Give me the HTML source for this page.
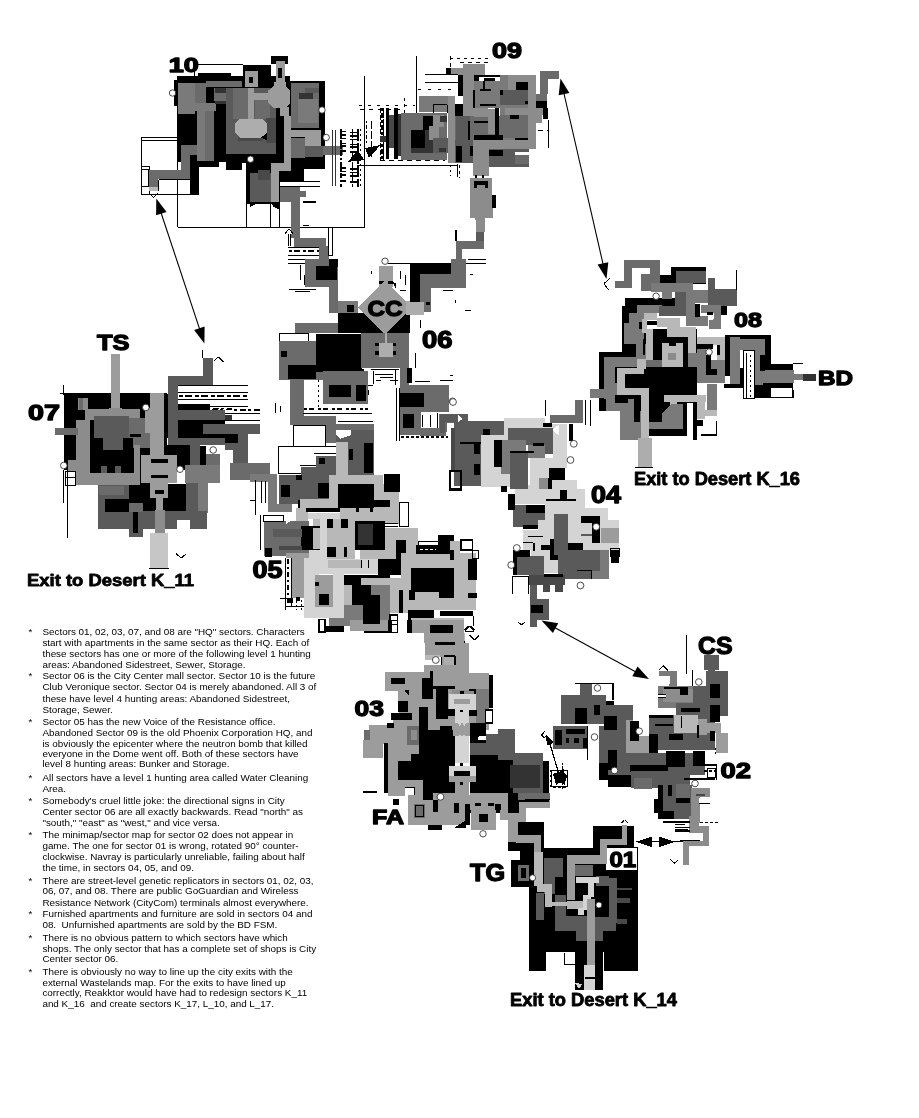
<!DOCTYPE html>
<html><head><meta charset="utf-8"><title>Neocron City Sector Map</title>
<style>
html,body{margin:0;padding:0;background:#fff;}
body{width:919px;height:1118px;position:relative;overflow:hidden;font-family:"Liberation Sans",sans-serif;color:#000;}
svg{position:absolute;left:0;top:0;filter:grayscale(1);}
#notes{filter:grayscale(1);}
.lab{font-family:"Liberation Sans",sans-serif;font-weight:bold;fill:#000;stroke:#000;stroke-width:1.3px;stroke-linejoin:round;}
.ex{font-family:"Liberation Sans",sans-serif;font-weight:bold;fill:#000;stroke:#000;stroke-width:0.8px;stroke-linejoin:round;}
#notes{position:absolute;left:0;top:0;font-size:9.9px;line-height:11px;white-space:nowrap;}
#notes .ln{position:absolute;left:42.4px;height:11px;}
#notes .b{position:absolute;left:-14px;top:0;}
</style></head><body>
<svg width="919" height="1118" viewBox="0 0 919 1118" shape-rendering="crispEdges">
<rect x="141.2" y="137.5" width="36.2" height="57.0" fill="none" stroke="#000" stroke-width="1"/>
<line x1="141.2" y1="140.5" x2="177.5" y2="140.5" stroke="#000" stroke-width="1"/>
<line x1="177.5" y1="160.0" x2="177.5" y2="227.0" stroke="#000" stroke-width="1"/>
<line x1="177.5" y1="227.0" x2="364.2" y2="227.0" stroke="#000" stroke-width="1"/>
<line x1="246.2" y1="200.0" x2="246.2" y2="227.0" stroke="#000" stroke-width="1"/>
<line x1="270.5" y1="200.0" x2="270.5" y2="227.0" stroke="#000" stroke-width="1"/>
<line x1="279.5" y1="200.0" x2="279.5" y2="227.0" stroke="#000" stroke-width="1"/>
<line x1="194.5" y1="64.5" x2="242.5" y2="64.5" stroke="#000" stroke-width="1"/>
<line x1="194.5" y1="64.5" x2="194.5" y2="76.2" stroke="#000" stroke-width="1"/>
<rect x="141.2" y="166.2" width="8.2" height="28.2" fill="none" stroke="#000" stroke-width="1"/>
<rect x="141.2" y="169.5" width="6.8" height="16.8" fill="none" stroke="#000" stroke-width="1"/>
<rect x="177.0" y="76.2" width="113.0" height="86.2" fill="#000"/>
<rect x="173.8" y="80.0" width="3.8" height="25.5" fill="#000"/>
<rect x="197.5" y="72.5" width="33.0" height="3.8" fill="#000"/>
<rect x="242.5" y="64.5" width="28.8" height="18.0" fill="#000"/>
<rect x="271.2" y="56.2" width="16.8" height="7.5" fill="#000"/>
<rect x="290.0" y="81.2" width="34.5" height="87.5" fill="#000"/>
<rect x="226.2" y="162.5" width="16.2" height="7.5" fill="#000"/>
<rect x="246.2" y="162.5" width="33.8" height="41.2" fill="#000"/>
<rect x="190.0" y="155.0" width="8.8" height="39.5" fill="#000"/>
<rect x="280.0" y="167.5" width="23.8" height="13.8" fill="#000"/>
<rect x="198.8" y="160.0" width="20.0" height="7.0" fill="#000"/>
<rect x="177.5" y="82.5" width="17.0" height="31.2" fill="#7a7a7a"/>
<rect x="194.5" y="82.5" width="11.8" height="20.0" fill="#6b6b6b"/>
<rect x="194.5" y="102.5" width="21.8" height="8.8" fill="#7a7a7a"/>
<rect x="206.2" y="81.2" width="36.2" height="6.2" fill="#6b6b6b"/>
<rect x="213.8" y="87.5" width="18.8" height="13.8" fill="#6b6b6b"/>
<rect x="215.0" y="88.0" width="16.2" height="4.5" fill="#333"/>
<rect x="215.0" y="101.2" width="11.2" height="2.8" fill="#333"/>
<rect x="197.0" y="111.2" width="8.0" height="50.0" fill="#7a7a7a"/>
<rect x="205.0" y="111.2" width="8.8" height="50.0" fill="#6b6b6b"/>
<rect x="181.2" y="145.0" width="16.2" height="10.0" fill="#6b6b6b"/>
<rect x="181.2" y="155.0" width="8.8" height="14.5" fill="#6b6b6b"/>
<rect x="148.8" y="169.5" width="41.2" height="9.2" fill="#6b6b6b"/>
<rect x="148.8" y="178.8" width="9.2" height="8.2" fill="#6b6b6b"/>
<rect x="148.8" y="187.0" width="9.2" height="4.2" fill="#b8b8b8"/>
<rect x="226.2" y="87.5" width="50.0" height="66.2" fill="#5a5a5a"/>
<rect x="232.5" y="87.5" width="15.0" height="31.2" fill="#6b6b6b"/>
<rect x="255.0" y="100.0" width="15.0" height="18.8" fill="#6b6b6b"/>
<rect x="266.2" y="117.5" width="10.0" height="25.5" fill="#484848"/>
<rect x="226.2" y="153.8" width="57.5" height="8.8" fill="#000"/>
<rect x="276.2" y="116.2" width="7.5" height="37.5" fill="#000"/>
<rect x="244.5" y="71.2" width="13.0" height="16.2" fill="#9c9c9c"/>
<rect x="248.5" y="77.0" width="4.5" height="5.5" fill="#000"/>
<rect x="248.0" y="87.5" width="6.0" height="31.2" fill="#9c9c9c"/>
<polygon points="240.0,118.8 262.5,118.8 267.0,123.0 267.0,132.5 262.0,137.5 239.5,137.5 235.0,133.0 235.0,123.0" fill="#adadad"/>
<rect x="238.0" y="137.5" width="24.5" height="3.5" fill="#484848"/>
<polygon points="261.2,137.5 267.0,132.5 267.0,140.5" fill="#000"/>
<rect x="275.5" y="61.2" width="9.0" height="21.2" fill="#9c9c9c"/>
<rect x="277.5" y="68.0" width="4.0" height="10.0" fill="#000"/>
<rect x="273.8" y="82.0" width="12.5" height="5.5" fill="#9c9c9c"/>
<polygon points="273.0,86.2 285.5,86.2 290.0,90.8 290.0,103.0 285.5,107.5 273.0,107.5 268.2,103.0 268.2,90.8" fill="#9c9c9c"/>
<rect x="254.0" y="93.0" width="14.8" height="7.0" fill="#9c9c9c"/>
<rect x="279.5" y="107.0" width="9.2" height="9.2" fill="#9c9c9c"/>
<rect x="283.8" y="115.5" width="7.5" height="52.0" fill="#9c9c9c"/>
<rect x="271.2" y="162.5" width="20.0" height="8.0" fill="#9c9c9c"/>
<rect x="271.2" y="170.0" width="8.2" height="31.5" fill="#9c9c9c"/>
<rect x="291.2" y="129.5" width="30.0" height="7.5" fill="#9c9c9c"/>
<rect x="305.0" y="136.5" width="16.2" height="9.8" fill="#9c9c9c"/>
<rect x="291.2" y="82.5" width="27.5" height="45.5" fill="#6b6b6b"/>
<rect x="298.0" y="98.8" width="19.5" height="24.2" fill="#7a7a7a"/>
<rect x="298.8" y="93.0" width="14.2" height="5.8" fill="#333"/>
<rect x="305.0" y="87.5" width="13.8" height="5.5" fill="#5a5a5a"/>
<rect x="291.2" y="137.5" width="13.8" height="20.0" fill="#6b6b6b"/>
<rect x="305.0" y="146.2" width="17.5" height="11.2" fill="#5a5a5a"/>
<rect x="322.5" y="146.2" width="20.0" height="8.8" fill="#6b6b6b"/>
<rect x="250.0" y="172.5" width="21.2" height="29.5" fill="#5a5a5a"/>
<rect x="257.5" y="170.0" width="12.5" height="10.0" fill="#484848"/>
<polygon points="250.0,202.0 260.0,202.0 250.0,207.0" fill="#000"/>
<polygon points="270.0,202.0 279.5,202.0 279.5,210.0 273.8,207.0" fill="#000"/>
<rect x="280.0" y="186.2" width="20.0" height="15.8" fill="#6b6b6b"/>
<rect x="279.5" y="181.2" width="40.5" height="5.0" fill="#fff"/>
<line x1="279.5" y1="181.2" x2="320.0" y2="181.2" stroke="#000" stroke-width="1"/>
<line x1="279.5" y1="186.2" x2="320.0" y2="186.2" stroke="#000" stroke-width="1"/>
<rect x="300.0" y="191.2" width="6.2" height="6.2" fill="#6b6b6b"/>
<line x1="302.5" y1="201.8" x2="315.5" y2="201.8" stroke="#000" stroke-width="2"/>
<line x1="141.2" y1="194.5" x2="194.5" y2="194.5" stroke="#000" stroke-width="1"/>
<line x1="158.5" y1="179.5" x2="189.8" y2="179.5" stroke="#000" stroke-width="1"/>
<line x1="158.5" y1="179.5" x2="158.5" y2="191.2" stroke="#000" stroke-width="1"/>
<line x1="148.8" y1="192.8" x2="153.5" y2="197.5" stroke="#000" stroke-width="1"/>
<line x1="153.5" y1="197.5" x2="158.5" y2="192.8" stroke="#000" stroke-width="1"/>
<circle cx="172.5" cy="93.0" r="3.2" fill="#fff" stroke="#222" stroke-width="0.8" shape-rendering="geometricPrecision"/>
<circle cx="322.0" cy="110.0" r="3.2" fill="#fff" stroke="#222" stroke-width="0.8" shape-rendering="geometricPrecision"/>
<circle cx="326.2" cy="137.5" r="3.2" fill="#fff" stroke="#222" stroke-width="0.8" shape-rendering="geometricPrecision"/>
<circle cx="250.5" cy="159.2" r="3.2" fill="#fff" stroke="#222" stroke-width="0.8" shape-rendering="geometricPrecision"/>
<line x1="364.2" y1="76.2" x2="364.2" y2="227.5" stroke="#000" stroke-width="1"/>
<line x1="416.2" y1="56.2" x2="416.2" y2="112.5" stroke="#000" stroke-width="1"/>
<line x1="358.8" y1="165.0" x2="457.5" y2="165.0" stroke="#000" stroke-width="1"/>
<line x1="457.5" y1="163.8" x2="457.5" y2="177.0" stroke="#000" stroke-width="1"/>
<line x1="371.2" y1="122.5" x2="371.2" y2="160.0" stroke="#000" stroke-width="1" stroke-dasharray="4 6"/>
<line x1="380.0" y1="107.5" x2="380.0" y2="160.0" stroke="#000" stroke-width="1" stroke-dasharray="5 2"/>
<line x1="383.0" y1="107.5" x2="383.0" y2="160.0" stroke="#000" stroke-width="1" stroke-dasharray="8 3"/>
<line x1="404.5" y1="97.5" x2="404.5" y2="112.5" stroke="#000" stroke-width="1" stroke-dasharray="3 3"/>
<line x1="450.0" y1="56.2" x2="450.0" y2="67.5" stroke="#000" stroke-width="1" stroke-dasharray="4 3"/>
<line x1="459.5" y1="165.0" x2="459.5" y2="177.5" stroke="#000" stroke-width="1" stroke-dasharray="3 3"/>
<line x1="450.0" y1="165.0" x2="450.0" y2="176.2" stroke="#000" stroke-width="1" stroke-dasharray="2 3"/>
<line x1="358.8" y1="105.0" x2="415.0" y2="105.0" stroke="#000" stroke-width="1" stroke-dasharray="3 6"/>
<line x1="360.0" y1="109.5" x2="405.0" y2="109.5" stroke="#000" stroke-width="1" stroke-dasharray="4 5"/>
<line x1="380.0" y1="160.5" x2="445.0" y2="160.5" stroke="#000" stroke-width="1" stroke-dasharray="5 4"/>
<line x1="450.0" y1="58.0" x2="490.0" y2="58.0" stroke="#000" stroke-width="1" stroke-dasharray="3 4"/>
<line x1="460.0" y1="62.0" x2="487.5" y2="62.0" stroke="#000" stroke-width="1" stroke-dasharray="4 4"/>
<line x1="417.5" y1="89.0" x2="457.5" y2="89.0" stroke="#000" stroke-width="1" stroke-dasharray="3 7"/>
<line x1="490.0" y1="166.2" x2="527.5" y2="166.2" stroke="#000" stroke-width="1" stroke-dasharray="3 4"/>
<line x1="537.5" y1="130.0" x2="548.8" y2="130.0" stroke="#000" stroke-width="1" stroke-dasharray="5 4"/>
<line x1="547.5" y1="147.5" x2="548.8" y2="147.5" stroke="#000" stroke-width="1" stroke-dasharray="1 1"/>
<line x1="548.0" y1="120.0" x2="548.0" y2="147.5" stroke="#000" stroke-width="1"/>
<line x1="332.5" y1="130.0" x2="332.5" y2="186.0" stroke="#333" stroke-width="1"/>
<line x1="335.5" y1="130.0" x2="335.5" y2="186.0" stroke="#333" stroke-width="1"/>
<line x1="341.0" y1="129" x2="341.0" y2="187" stroke="#000" stroke-width="1.5" stroke-dasharray="5 2 2 2"/>
<line x1="352.5" y1="129" x2="352.5" y2="187" stroke="#000" stroke-width="1.2" stroke-dasharray="9 2"/>
<line x1="357.5" y1="129" x2="357.5" y2="187" stroke="#000" stroke-width="2" stroke-dasharray="12 2 3 1"/>
<line x1="360.8" y1="129" x2="360.8" y2="187" stroke="#000" stroke-width="1" stroke-dasharray="2 3"/>
<line x1="340.0" y1="131.8" x2="346.0" y2="131.8" stroke="#000" stroke-width="1.2"/>
<line x1="350.0" y1="132.8" x2="359.0" y2="132.8" stroke="#000" stroke-width="1.2"/>
<line x1="340.0" y1="135.0" x2="346.0" y2="135.0" stroke="#000" stroke-width="1.2"/>
<line x1="350.0" y1="136.0" x2="359.0" y2="136.0" stroke="#000" stroke-width="1.2"/>
<line x1="340.0" y1="138.3" x2="346.0" y2="138.3" stroke="#000" stroke-width="1.2"/>
<line x1="350.0" y1="139.3" x2="359.0" y2="139.3" stroke="#000" stroke-width="1.2"/>
<line x1="340.0" y1="143.5" x2="346.0" y2="143.5" stroke="#000" stroke-width="1.2"/>
<line x1="350.0" y1="144.5" x2="359.0" y2="144.5" stroke="#000" stroke-width="1.2"/>
<line x1="340.0" y1="146.0" x2="346.0" y2="146.0" stroke="#000" stroke-width="1.2"/>
<line x1="350.0" y1="147.0" x2="359.0" y2="147.0" stroke="#000" stroke-width="1.2"/>
<line x1="340.0" y1="151.0" x2="346.0" y2="151.0" stroke="#000" stroke-width="1.2"/>
<line x1="350.0" y1="152.0" x2="359.0" y2="152.0" stroke="#000" stroke-width="1.2"/>
<line x1="340.0" y1="168.0" x2="346.0" y2="168.0" stroke="#000" stroke-width="1.2"/>
<line x1="350.0" y1="169.0" x2="359.0" y2="169.0" stroke="#000" stroke-width="1.2"/>
<line x1="340.0" y1="171.5" x2="346.0" y2="171.5" stroke="#000" stroke-width="1.2"/>
<line x1="350.0" y1="172.5" x2="359.0" y2="172.5" stroke="#000" stroke-width="1.2"/>
<line x1="340.0" y1="175.0" x2="346.0" y2="175.0" stroke="#000" stroke-width="1.2"/>
<line x1="350.0" y1="176.0" x2="359.0" y2="176.0" stroke="#000" stroke-width="1.2"/>
<line x1="340.0" y1="181.0" x2="346.0" y2="181.0" stroke="#000" stroke-width="1.2"/>
<line x1="350.0" y1="182.0" x2="359.0" y2="182.0" stroke="#000" stroke-width="1.2"/>
<line x1="366.5" y1="121" x2="366.5" y2="143" stroke="#000" stroke-width="1.6" stroke-dasharray="2 2 4 2"/>
<line x1="371.5" y1="121" x2="371.5" y2="143" stroke="#000" stroke-width="1.6" stroke-dasharray="2 2 4 2"/>
<line x1="382" y1="108" x2="382" y2="160" stroke="#000" stroke-width="3" stroke-dasharray="3 2 5 2"/>
<rect x="385.5" y="108.0" width="3.8" height="51.0" fill="#000"/>
<rect x="393.8" y="108.0" width="4.5" height="51.0" fill="#000"/>
<rect x="389.2" y="115.0" width="4.5" height="32.5" fill="#484848"/>
<rect x="398.2" y="113.8" width="4.2" height="42.5" fill="#333"/>
<rect x="380.0" y="136.2" width="5.5" height="6.2" fill="#333"/>
<rect x="401.2" y="112.5" width="46.2" height="47.0" fill="#6b6b6b"/>
<rect x="411.2" y="130.0" width="21.8" height="22.5" fill="#333"/>
<rect x="411.2" y="130.0" width="13.8" height="18.0" fill="#000"/>
<rect x="422.5" y="116.2" width="10.5" height="13.8" fill="#000"/>
<rect x="433.0" y="115.0" width="10.8" height="12.0" fill="#8c8c8c"/>
<rect x="428.8" y="126.2" width="10.5" height="14.2" fill="#8c8c8c"/>
<rect x="433.0" y="137.5" width="14.5" height="15.0" fill="#5a5a5a"/>
<rect x="438.8" y="147.5" width="7.5" height="4.5" fill="#333"/>
<rect x="440.0" y="116.2" width="7.0" height="5.8" fill="#333"/>
<rect x="418.8" y="96.2" width="36.2" height="16.2" fill="#7a7a7a"/>
<line x1="433.0" y1="104.5" x2="447.0" y2="104.5" stroke="#000" stroke-width="1"/>
<line x1="433.0" y1="104.5" x2="433.0" y2="112.5" stroke="#000" stroke-width="1"/>
<line x1="447.0" y1="104.5" x2="447.0" y2="112.5" stroke="#000" stroke-width="1"/>
<rect x="447.5" y="96.2" width="7.5" height="66.8" fill="#8c8c8c"/>
<rect x="451.2" y="67.5" width="33.8" height="9.2" fill="#8c8c8c"/>
<rect x="462.5" y="63.8" width="22.5" height="4.2" fill="#8c8c8c"/>
<rect x="446.2" y="67.5" width="5.0" height="7.0" fill="#000"/>
<rect x="425.0" y="74.5" width="32.5" height="8.0" fill="#fff"/>
<line x1="425.0" y1="74.5" x2="457.5" y2="74.5" stroke="#000" stroke-width="1"/>
<line x1="425.0" y1="82.5" x2="457.5" y2="82.5" stroke="#000" stroke-width="1"/>
<rect x="462.5" y="75.0" width="11.2" height="41.2" fill="#8c8c8c"/>
<rect x="457.5" y="75.0" width="5.0" height="21.2" fill="#000"/>
<rect x="473.8" y="75.0" width="5.0" height="6.5" fill="#000"/>
<rect x="478.8" y="75.0" width="21.2" height="6.5" fill="#fff"/>
<line x1="478.8" y1="75.8" x2="500.0" y2="75.8" stroke="#000" stroke-width="2"/>
<rect x="483.8" y="78.0" width="11.2" height="4.0" fill="#000"/>
<rect x="455.0" y="103.8" width="7.5" height="19.2" fill="#000"/>
<rect x="473.8" y="81.2" width="26.2" height="26.8" fill="#7a7a7a"/>
<line x1="474.2" y1="90.0" x2="474.2" y2="107.5" stroke="#000" stroke-width="2"/>
<line x1="483.8" y1="81.2" x2="483.8" y2="91.2" stroke="#000" stroke-width="2"/>
<line x1="480.0" y1="90.0" x2="491.2" y2="90.0" stroke="#000" stroke-width="2"/>
<line x1="480.0" y1="105.0" x2="496.2" y2="105.0" stroke="#000" stroke-width="2"/>
<rect x="500.0" y="75.0" width="36.2" height="73.0" fill="#7a7a7a"/>
<rect x="507.5" y="75.0" width="28.8" height="15.0" fill="#8c8c8c"/>
<rect x="516.2" y="82.0" width="11.8" height="8.0" fill="#000"/>
<rect x="500.0" y="90.0" width="27.5" height="15.0" fill="#5a5a5a"/>
<rect x="505.0" y="107.5" width="37.5" height="7.5" fill="#8c8c8c"/>
<rect x="527.5" y="90.0" width="8.8" height="58.0" fill="#8c8c8c"/>
<rect x="500.0" y="115.0" width="27.5" height="23.0" fill="#6b6b6b"/>
<rect x="510.0" y="115.0" width="8.8" height="4.0" fill="#000"/>
<rect x="514.5" y="137.5" width="13.0" height="3.2" fill="#000"/>
<rect x="500.0" y="90.0" width="3.0" height="5.0" fill="#000"/>
<rect x="525.0" y="101.2" width="3.0" height="3.2" fill="#000"/>
<rect x="536.2" y="107.5" width="6.2" height="15.5" fill="#8c8c8c"/>
<rect x="539.5" y="71.2" width="19.2" height="7.8" fill="#6b6b6b"/>
<rect x="539.5" y="78.8" width="8.0" height="15.2" fill="#6b6b6b"/>
<rect x="536.2" y="93.8" width="11.2" height="7.8" fill="#6b6b6b"/>
<rect x="536.2" y="101.2" width="11.2" height="6.8" fill="#000"/>
<rect x="542.5" y="107.5" width="5.0" height="11.5" fill="#000"/>
<rect x="455.0" y="116.2" width="45.0" height="24.2" fill="#6b6b6b"/>
<rect x="456.2" y="116.2" width="13.8" height="23.8" fill="#5a5a5a"/>
<rect x="470.0" y="120.0" width="18.0" height="15.0" fill="#6b6b6b"/>
<rect x="473.8" y="135.0" width="29.2" height="5.8" fill="#000"/>
<rect x="495.0" y="107.5" width="4.0" height="27.5" fill="#000"/>
<rect x="487.5" y="108.8" width="7.5" height="25.2" fill="#8c8c8c"/>
<rect x="480.0" y="114.5" width="8.0" height="2.5" fill="#000"/>
<rect x="473.8" y="120.5" width="13.8" height="2.5" fill="#000"/>
<rect x="468.0" y="121.2" width="2.0" height="18.8" fill="#000"/>
<rect x="472.5" y="140.0" width="63.8" height="9.0" fill="#8c8c8c"/>
<rect x="455.0" y="145.0" width="17.5" height="18.0" fill="#5a5a5a"/>
<rect x="456.2" y="145.0" width="5.8" height="17.0" fill="#000"/>
<rect x="469.5" y="145.0" width="3.0" height="10.5" fill="#000"/>
<rect x="472.5" y="148.8" width="16.2" height="26.8" fill="#8c8c8c"/>
<rect x="488.8" y="149.0" width="40.0" height="17.5" fill="#5a5a5a"/>
<rect x="488.8" y="149.5" width="13.8" height="6.0" fill="#000"/>
<rect x="515.0" y="155.0" width="13.8" height="9.0" fill="#6b6b6b"/>
<rect x="515.0" y="152.0" width="13.8" height="3.0" fill="#fff"/>
<rect x="455.0" y="140.0" width="17.8" height="5.5" fill="#5a5a5a"/>
<rect x="473.8" y="107.5" width="14.2" height="9.2" fill="#8c8c8c"/>
<rect x="469.5" y="177.5" width="22.5" height="39.0" fill="#8c8c8c"/>
<rect x="473.8" y="181.2" width="13.8" height="7.0" fill="#000"/>
<rect x="477.0" y="184.5" width="7.5" height="3.8" fill="#8c8c8c"/>
<rect x="475.0" y="216.2" width="10.0" height="3.8" fill="#8c8c8c"/>
<rect x="492.0" y="195.0" width="3.5" height="13.0" fill="#000"/>
<line x1="476.2" y1="175.0" x2="476.2" y2="178.0" stroke="#000" stroke-width="2"/>
<line x1="483.0" y1="175.0" x2="483.0" y2="178.0" stroke="#000" stroke-width="2"/>
<polygon points="358.0,150.5 347.5,161.8 364.5,160.2" fill="#000"/>
<polygon points="365.0,148.0 380.5,145.0 369.0,158.0" fill="#000"/>
<rect x="291.2" y="200.0" width="8.8" height="38.0" fill="#6b6b6b"/>
<rect x="293.8" y="237.5" width="32.5" height="9.0" fill="#6b6b6b"/>
<rect x="318.8" y="246.2" width="10.2" height="12.8" fill="#6b6b6b"/>
<rect x="328.0" y="227.5" width="4.0" height="28.0" fill="none" stroke="#000" stroke-width="1"/>
<line x1="288.0" y1="231.2" x2="288.0" y2="246.2" stroke="#000" stroke-width="1"/>
<line x1="290.5" y1="231.2" x2="290.5" y2="246.2" stroke="#000" stroke-width="1"/>
<polygon points="285.0,233.8 289.0,228.8 293.0,233.8" fill="#fff"/>
<line x1="285.0" y1="233.8" x2="289.0" y2="228.8" stroke="#000" stroke-width="1"/>
<line x1="289.0" y1="228.8" x2="293.0" y2="233.8" stroke="#000" stroke-width="1"/>
<line x1="287.5" y1="247.5" x2="318.8" y2="247.5" stroke="#000" stroke-width="1"/>
<line x1="287.5" y1="255.5" x2="318.8" y2="255.5" stroke="#000" stroke-width="1"/>
<line x1="287.5" y1="259.0" x2="318.8" y2="259.0" stroke="#000" stroke-width="1"/>
<line x1="287.5" y1="263.0" x2="318.8" y2="263.0" stroke="#000" stroke-width="1"/>
<line x1="288.8" y1="251.2" x2="318.8" y2="251.2" stroke="#000" stroke-width="2" stroke-dasharray="3 2 6 3"/>
<rect x="305.0" y="259.0" width="32.5" height="27.5" fill="#6b6b6b"/>
<rect x="316.2" y="266.2" width="21.2" height="14.2" fill="#000"/>
<rect x="328.8" y="259.0" width="8.8" height="7.5" fill="#000"/>
<rect x="328.8" y="286.2" width="8.8" height="26.8" fill="#6b6b6b"/>
<rect x="337.5" y="301.2" width="20.0" height="14.2" fill="#7a7a7a"/>
<rect x="347.0" y="305.0" width="7.0" height="6.5" fill="#000"/>
<rect x="295.0" y="322.5" width="42.5" height="10.5" fill="#6b6b6b"/>
<rect x="337.5" y="312.5" width="72.5" height="20.5" fill="#000"/>
<rect x="378.8" y="266.2" width="13.8" height="20.8" fill="#9c9c9c"/>
<rect x="378.8" y="281.2" width="5.0" height="2.8" fill="#000"/>
<rect x="387.5" y="281.2" width="5.0" height="2.8" fill="#000"/>
<polygon points="385.0,280.5 412.0,307.5 385.0,334.5 358.0,307.5" fill="#9c9c9c"/>
<polygon points="392.5,281.2 396.2,283.8 396.2,290.0" fill="#000"/>
<circle cx="385.0" cy="261.2" r="3.2" fill="#fff" stroke="#222" stroke-width="0.8" shape-rendering="geometricPrecision"/>
<line x1="387.5" y1="263.0" x2="486.2" y2="263.0" stroke="#000" stroke-width="1"/>
<line x1="467.5" y1="259.5" x2="486.2" y2="259.5" stroke="#000" stroke-width="1"/>
<rect x="406.2" y="301.2" width="17.5" height="13.8" fill="#adadad"/>
<rect x="423.8" y="297.5" width="7.5" height="14.0" fill="#6b6b6b"/>
<rect x="426.2" y="300.0" width="3.8" height="5.0" fill="#000"/>
<rect x="410.0" y="263.0" width="41.2" height="11.0" fill="#000"/>
<rect x="410.0" y="273.8" width="10.0" height="27.8" fill="#000"/>
<rect x="420.0" y="273.8" width="46.2" height="14.2" fill="#6b6b6b"/>
<rect x="420.0" y="287.5" width="11.2" height="14.0" fill="#6b6b6b"/>
<rect x="451.2" y="258.8" width="15.0" height="15.2" fill="#6b6b6b"/>
<rect x="456.2" y="241.2" width="27.5" height="7.8" fill="#6b6b6b"/>
<rect x="456.2" y="248.8" width="6.2" height="10.2" fill="#6b6b6b"/>
<rect x="476.2" y="231.2" width="7.8" height="10.2" fill="#5a5a5a"/>
<rect x="470.0" y="200.0" width="22.5" height="17.5" fill="#8c8c8c"/>
<rect x="476.2" y="217.5" width="8.8" height="14.0" fill="#8c8c8c"/>
<line x1="455.5" y1="230.0" x2="455.5" y2="241.2" stroke="#000" stroke-width="2"/>
<rect x="492.0" y="200.0" width="4.2" height="7.5" fill="#000"/>
<rect x="345.0" y="272.5" width="2.0" height="0.8" fill="#000"/>
<rect x="347.5" y="275.0" width="0.8" height="2.5" fill="#000"/>
<rect x="371.2" y="271.2" width="1.0" height="3.0" fill="#000"/>
<rect x="352.5" y="292.5" width="3.0" height="0.8" fill="#000"/>
<rect x="357.5" y="296.2" width="0.8" height="2.5" fill="#000"/>
<rect x="400.0" y="271.2" width="0.8" height="7.5" fill="#000"/>
<rect x="405.0" y="275.0" width="0.8" height="10.0" fill="#000"/>
<rect x="397.5" y="282.5" width="7.5" height="0.8" fill="#000"/>
<rect x="400.0" y="290.0" width="6.2" height="0.8" fill="#000"/>
<rect x="442.5" y="290.0" width="10.0" height="0.8" fill="#000"/>
<rect x="455.0" y="300.0" width="1.2" height="3.0" fill="#000"/>
<rect x="465.0" y="310.0" width="6.2" height="0.8" fill="#000"/>
<rect x="470.0" y="273.8" width="3.0" height="0.8" fill="#000"/>
<rect x="302.5" y="225.0" width="6.2" height="0.8" fill="#000"/>
<rect x="307.5" y="227.0" width="2.5" height="0.8" fill="#000"/>
<rect x="288.8" y="288.8" width="27.5" height="1.0" fill="#000"/>
<rect x="295.0" y="291.2" width="15.0" height="0.8" fill="#000"/>
<rect x="300.0" y="265.0" width="1.0" height="15.0" fill="#000"/>
<rect x="303.8" y="275.0" width="0.8" height="10.0" fill="#000"/>
<rect x="288.8" y="322.5" width="6.2" height="0.8" fill="#000"/>
<rect x="420.0" y="320.0" width="0.8" height="7.5" fill="#000"/>
<rect x="415.0" y="352.5" width="0.8" height="15.0" fill="#000"/>
<rect x="412.5" y="372.5" width="0.8" height="12.5" fill="#000"/>
<rect x="442.5" y="372.5" width="0.8" height="7.5" fill="#000"/>
<rect x="450.0" y="375.0" width="3.0" height="0.8" fill="#000"/>
<rect x="435.0" y="317.5" width="3.0" height="0.8" fill="#000"/>
<rect x="279.5" y="333.8" width="28.5" height="9.2" fill="none" stroke="#000" stroke-width="1"/>
<rect x="278.8" y="341.2" width="43.8" height="38.8" fill="#6b6b6b"/>
<rect x="287.5" y="365.0" width="28.0" height="14.0" fill="#000"/>
<rect x="281.2" y="351.2" width="6.2" height="6.2" fill="#000"/>
<rect x="316.2" y="333.8" width="45.5" height="37.8" fill="#000"/>
<rect x="343.8" y="368.8" width="20.2" height="10.2" fill="#000"/>
<rect x="361.2" y="332.5" width="47.8" height="35.5" fill="#6b6b6b"/>
<rect x="384.5" y="332.5" width="2.8" height="10.5" fill="#adadad"/>
<rect x="378.8" y="342.5" width="14.0" height="14.8" fill="#adadad"/>
<rect x="375.0" y="342.5" width="3.5" height="3.8" fill="#000"/>
<rect x="392.8" y="342.5" width="3.5" height="3.8" fill="#000"/>
<rect x="375.0" y="351.2" width="3.5" height="3.8" fill="#000"/>
<rect x="392.8" y="351.2" width="3.5" height="3.8" fill="#000"/>
<rect x="400.0" y="367.5" width="9.0" height="18.0" fill="#6b6b6b"/>
<rect x="406.5" y="367.5" width="5.0" height="15.0" fill="#000"/>
<rect x="322.5" y="371.2" width="45.0" height="32.8" fill="#6b6b6b"/>
<rect x="328.8" y="385.0" width="21.8" height="11.5" fill="#000"/>
<rect x="356.2" y="385.0" width="10.2" height="15.5" fill="#000"/>
<rect x="290.0" y="380.0" width="14.0" height="38.0" fill="#6b6b6b"/>
<rect x="290.0" y="416.2" width="46.2" height="9.0" fill="#6b6b6b"/>
<rect x="325.0" y="425.0" width="11.2" height="18.0" fill="#6b6b6b"/>
<line x1="302.5" y1="413.2" x2="372.0" y2="413.2" stroke="#000" stroke-width="1"/>
<rect x="293.8" y="425.0" width="31.2" height="21.2" fill="none" stroke="#000" stroke-width="1"/>
<rect x="304.5" y="379.5" width="18.0" height="24.5" fill="#fff"/>
<line x1="318.8" y1="380.0" x2="318.8" y2="410.0" stroke="#000" stroke-width="1" stroke-dasharray="2 3"/>
<line x1="303.8" y1="408.8" x2="367.5" y2="408.8" stroke="#000" stroke-width="2" stroke-dasharray="3 2 5 4"/>
<rect x="371.2" y="368.8" width="27.5" height="1.0" fill="#000"/>
<rect x="372.5" y="371.2" width="1.0" height="12.5" fill="#000"/>
<rect x="375.0" y="373.8" width="17.5" height="1.0" fill="#000"/>
<rect x="380.0" y="377.0" width="12.5" height="0.8" fill="#000"/>
<rect x="395.0" y="370.0" width="1.0" height="15.0" fill="#000"/>
<rect x="390.0" y="380.0" width="7.5" height="1.0" fill="#000"/>
<rect x="376.2" y="380.0" width="5.0" height="1.0" fill="#000"/>
<rect x="367.5" y="385.0" width="5.0" height="0.8" fill="#000"/>
<rect x="367.5" y="390.0" width="1.0" height="5.0" fill="#000"/>
<rect x="337.5" y="421.2" width="35.0" height="0.8" fill="#000"/>
<rect x="275.0" y="402.5" width="1.0" height="10.0" fill="#000"/>
<rect x="280.0" y="406.2" width="0.8" height="6.2" fill="#000"/>
<rect x="412.5" y="360.0" width="0.8" height="20.0" fill="#000"/>
<rect x="415.0" y="381.2" width="15.0" height="0.8" fill="#000"/>
<rect x="440.0" y="380.0" width="12.5" height="0.8" fill="#000"/>
<rect x="442.5" y="370.0" width="0.8" height="7.5" fill="#000"/>
<line x1="396.2" y1="387.5" x2="396.2" y2="441.2" stroke="#000" stroke-width="1"/>
<line x1="399.5" y1="387.5" x2="399.5" y2="441.2" stroke="#000" stroke-width="1"/>
<rect x="400.0" y="385.0" width="49.0" height="26.5" fill="#6b6b6b"/>
<rect x="400.0" y="392.5" width="24.0" height="14.0" fill="#000"/>
<rect x="400.0" y="411.2" width="20.5" height="24.2" fill="#6b6b6b"/>
<rect x="402.5" y="413.8" width="11.5" height="14.2" fill="#000"/>
<rect x="420.0" y="427.5" width="25.5" height="8.0" fill="#6b6b6b"/>
<rect x="438.8" y="413.8" width="19.2" height="9.0" fill="#6b6b6b"/>
<rect x="438.8" y="422.5" width="7.8" height="9.0" fill="#6b6b6b"/>
<rect x="416.2" y="403.8" width="7.8" height="3.2" fill="#000"/>
<line x1="401.2" y1="436.5" x2="447.5" y2="436.5" stroke="#000" stroke-width="2" stroke-dasharray="3 2"/>
<circle cx="452.5" cy="401.2" r="3.2" fill="#fff" stroke="#222" stroke-width="0.8" shape-rendering="geometricPrecision"/>
<polygon points="458.0,414.5 462.0,418.2 458.0,422.0" fill="#fff"/>
<line x1="422.5" y1="415.0" x2="422.5" y2="427.0" stroke="#000" stroke-width="1"/>
<line x1="430.0" y1="415.0" x2="430.0" y2="427.0" stroke="#000" stroke-width="1"/>
<line x1="437.5" y1="413.0" x2="437.5" y2="428.0" stroke="#000" stroke-width="1"/>
<rect x="623.8" y="259.5" width="36.2" height="8.2" fill="#6b6b6b"/>
<rect x="623.8" y="267.5" width="7.8" height="14.0" fill="#6b6b6b"/>
<rect x="615.0" y="280.5" width="16.5" height="7.2" fill="#6b6b6b"/>
<rect x="650.0" y="267.5" width="10.0" height="16.5" fill="#6b6b6b"/>
<rect x="641.2" y="273.8" width="10.2" height="17.0" fill="#6b6b6b"/>
<polygon points="603.8,283.8 610.0,278.0 613.8,281.2 613.8,290.0 608.8,290.0" fill="#fff"/>
<line x1="603.8" y1="283.8" x2="610.0" y2="278.0" stroke="#000" stroke-width="1"/>
<line x1="603.8" y1="283.8" x2="608.8" y2="290.0" stroke="#000" stroke-width="1"/>
<rect x="671.2" y="267.0" width="35.2" height="17.0" fill="#000"/>
<rect x="676.2" y="271.2" width="30.2" height="11.5" fill="#5a5a5a"/>
<rect x="660.0" y="275.0" width="12.5" height="9.0" fill="#000"/>
<rect x="651.2" y="282.5" width="41.5" height="9.0" fill="#7a7a7a"/>
<rect x="707.5" y="277.5" width="7.5" height="12.5" fill="#5a5a5a"/>
<rect x="707.5" y="288.8" width="29.0" height="17.0" fill="#5a5a5a"/>
<line x1="736.2" y1="270.0" x2="736.2" y2="290.0" stroke="#000" stroke-width="1"/>
<rect x="725.0" y="335.0" width="45.5" height="9.0" fill="#000"/>
<rect x="725.0" y="335.0" width="5.2" height="40.5" fill="#000"/>
<rect x="730.0" y="338.8" width="10.2" height="46.8" fill="#7a7a7a"/>
<rect x="740.0" y="338.8" width="25.2" height="11.5" fill="#7a7a7a"/>
<rect x="755.0" y="350.0" width="10.2" height="45.5" fill="#7a7a7a"/>
<rect x="743.0" y="350.8" width="11.0" height="47.2" fill="none" stroke="#000" stroke-width="1"/>
<line x1="746.2" y1="352.5" x2="746.2" y2="397.5" stroke="#000" stroke-width="1"/>
<line x1="750.0" y1="355.0" x2="750.0" y2="397.5" stroke="#000" stroke-width="1" stroke-dasharray="2 3"/>
<rect x="765.0" y="335.0" width="5.5" height="33.0" fill="#000"/>
<rect x="760.0" y="355.0" width="10.5" height="15.5" fill="#000"/>
<rect x="765.0" y="370.0" width="29.0" height="12.8" fill="#7a7a7a"/>
<rect x="770.0" y="363.8" width="23.0" height="6.5" fill="#000"/>
<rect x="762.5" y="382.5" width="30.5" height="5.2" fill="#000"/>
<rect x="755.0" y="385.0" width="15.5" height="13.0" fill="#000"/>
<rect x="770.5" y="387.8" width="22.0" height="9.8" fill="none" stroke="#000" stroke-width="1"/>
<rect x="793.8" y="373.8" width="9.0" height="6.5" fill="#7a7a7a"/>
<rect x="802.5" y="374.0" width="13.0" height="6.5" fill="#333"/>
<rect x="723.8" y="383.8" width="20.2" height="4.0" fill="#000"/>
<rect x="740.0" y="367.5" width="4.0" height="17.5" fill="#000"/>
<line x1="792.5" y1="363.8" x2="802.5" y2="363.8" stroke="#000" stroke-width="1"/>
<line x1="793.8" y1="390.0" x2="793.8" y2="397.5" stroke="#000" stroke-width="1"/>
<rect x="625.1" y="298.2" width="49.8" height="8.5" fill="#000"/>
<rect x="621.8" y="306.3" width="17.1" height="47.7" fill="#000"/>
<rect x="599.0" y="352.0" width="46.8" height="59.1" fill="#000"/>
<rect x="643.9" y="329.2" width="52.6" height="93.4" fill="#000"/>
<rect x="634.1" y="394.5" width="53.9" height="41.8" fill="#000"/>
<rect x="637.3" y="304.7" width="24.8" height="8.5" fill="#7a7a7a"/>
<rect x="629.2" y="312.8" width="15.0" height="10.1" fill="#7a7a7a"/>
<rect x="624.3" y="322.6" width="19.9" height="21.5" fill="#7a7a7a"/>
<rect x="635.7" y="343.9" width="10.1" height="15.0" fill="#7a7a7a"/>
<rect x="639.0" y="321.8" width="2.9" height="7.3" fill="#000"/>
<rect x="642.6" y="339.0" width="2.3" height="16.3" fill="#000"/>
<rect x="603.9" y="356.9" width="35.1" height="10.1" fill="#7a7a7a"/>
<rect x="603.9" y="366.7" width="12.6" height="21.5" fill="#7a7a7a"/>
<rect x="590.0" y="388.7" width="15.0" height="9.3" fill="#7a7a7a"/>
<rect x="603.9" y="387.9" width="12.6" height="10.9" fill="#7a7a7a"/>
<rect x="606.3" y="398.5" width="28.1" height="12.6" fill="#7a7a7a"/>
<rect x="620.2" y="410.8" width="20.7" height="29.2" fill="#7a7a7a"/>
<rect x="614.5" y="395.3" width="13.4" height="7.7" fill="#000"/>
<rect x="634.1" y="395.3" width="5.9" height="26.4" fill="#000"/>
<rect x="614.5" y="366.7" width="2.4" height="16.3" fill="#000"/>
<rect x="643.9" y="312.8" width="13.4" height="6.9" fill="#b8b8b8"/>
<rect x="642.2" y="319.4" width="5.2" height="13.4" fill="#b8b8b8"/>
<rect x="645.5" y="329.2" width="7.5" height="31.3" fill="#b8b8b8"/>
<rect x="637.3" y="358.5" width="9.1" height="10.1" fill="#b8b8b8"/>
<rect x="616.9" y="368.3" width="27.3" height="6.0" fill="#b8b8b8"/>
<rect x="616.9" y="374.1" width="7.7" height="20.7" fill="#b8b8b8"/>
<rect x="616.9" y="387.9" width="32.2" height="6.9" fill="#b8b8b8"/>
<rect x="641.4" y="394.5" width="7.2" height="45.5" fill="#b8b8b8"/>
<rect x="656.9" y="317.7" width="23.2" height="9.3" fill="#b8b8b8"/>
<rect x="666.7" y="326.7" width="29.7" height="10.1" fill="#b8b8b8"/>
<rect x="687.9" y="336.5" width="8.5" height="16.6" fill="#b8b8b8"/>
<rect x="661.8" y="342.2" width="21.5" height="24.8" fill="#b8b8b8"/>
<rect x="668.3" y="352.8" width="7.5" height="7.5" fill="#8c8c8c"/>
<rect x="655.3" y="331.6" width="6.5" height="28.9" fill="#000"/>
<rect x="655.3" y="330.8" width="11.8" height="11.8" fill="#000"/>
<rect x="666.7" y="336.5" width="19.9" height="6.0" fill="#000"/>
<rect x="669.2" y="342.2" width="6.5" height="3.3" fill="#000"/>
<rect x="683.4" y="349.6" width="3.8" height="17.1" fill="#000"/>
<rect x="647.1" y="321.0" width="10.1" height="4.2" fill="#000"/>
<rect x="646.3" y="360.2" width="15.8" height="6.9" fill="#6b6b6b"/>
<rect x="661.8" y="291.6" width="10.1" height="7.7" fill="#7a7a7a"/>
<rect x="674.9" y="291.6" width="11.8" height="23.2" fill="#5a5a5a"/>
<rect x="658.5" y="306.3" width="28.1" height="9.3" fill="#5a5a5a"/>
<rect x="686.3" y="290.0" width="21.5" height="13.4" fill="#7a7a7a"/>
<rect x="686.3" y="303.1" width="8.5" height="23.2" fill="#7a7a7a"/>
<rect x="694.5" y="316.1" width="13.4" height="10.1" fill="#7a7a7a"/>
<rect x="701.0" y="304.7" width="19.9" height="8.5" fill="#7a7a7a"/>
<rect x="714.0" y="312.8" width="6.9" height="15.8" fill="#7a7a7a"/>
<rect x="709.1" y="319.4" width="5.2" height="9.3" fill="#7a7a7a"/>
<rect x="694.5" y="303.9" width="5.9" height="12.6" fill="#000"/>
<rect x="708.3" y="315.3" width="4.2" height="5.1" fill="#fff"/>
<rect x="721.4" y="305.5" width="6.0" height="9.3" fill="#000"/>
<rect x="708.3" y="290.0" width="28.1" height="15.0" fill="#5a5a5a"/>
<rect x="707.2" y="312.0" width="5.5" height="3.3" fill="#000"/>
<rect x="696.9" y="336.5" width="28.1" height="8.5" fill="#b8b8b8"/>
<rect x="717.3" y="344.7" width="7.7" height="15.8" fill="#b8b8b8"/>
<rect x="717.3" y="344.7" width="2.6" height="10.1" fill="#000"/>
<rect x="696.9" y="344.7" width="9.3" height="38.7" fill="#7a7a7a"/>
<rect x="705.9" y="360.2" width="19.1" height="23.2" fill="#7a7a7a"/>
<rect x="705.9" y="355.3" width="5.2" height="19.9" fill="#000"/>
<rect x="710.8" y="369.2" width="6.0" height="6.0" fill="#000"/>
<rect x="724.6" y="336.5" width="6.0" height="38.7" fill="#000"/>
<rect x="730.4" y="336.5" width="9.6" height="46.8" fill="#7a7a7a"/>
<rect x="687.9" y="352.8" width="9.3" height="14.2" fill="#7a7a7a"/>
<rect x="696.1" y="343.9" width="16.6" height="5.2" fill="#000"/>
<rect x="723.8" y="383.8" width="16.2" height="4.4" fill="#000"/>
<rect x="664.3" y="395.3" width="41.9" height="6.9" fill="#b8b8b8"/>
<rect x="670.0" y="401.8" width="6.9" height="6.0" fill="#b8b8b8"/>
<rect x="696.9" y="401.8" width="7.7" height="17.5" fill="#b8b8b8"/>
<rect x="704.2" y="410.0" width="12.6" height="6.0" fill="#b8b8b8"/>
<rect x="706.7" y="383.8" width="10.1" height="26.4" fill="#7a7a7a"/>
<polygon points="661.8,428.7 661.8,414.0 671.6,404.2 683.4,404.2 683.4,428.7" fill="#7a7a7a"/>
<rect x="648.8" y="422.2" width="34.6" height="6.9" fill="#7a7a7a"/>
<rect x="683.0" y="402.6" width="4.2" height="33.0" fill="#000"/>
<rect x="687.1" y="402.6" width="6.0" height="37.4" fill="#fff"/>
<rect x="692.8" y="402.6" width="4.2" height="37.4" fill="#000"/>
<rect x="656.1" y="428.7" width="27.3" height="6.9" fill="#000"/>
<rect x="696.9" y="419.8" width="5.7" height="5.7" fill="#000"/>
<line x1="701.0" y1="435.3" x2="716.5" y2="435.3" stroke="#000" stroke-width="2"/>
<line x1="716.5" y1="420.6" x2="716.5" y2="435.3" stroke="#000" stroke-width="1"/>
<circle cx="656.1" cy="296.2" r="3.2" fill="#fff" stroke="#222" stroke-width="0.8" shape-rendering="geometricPrecision"/>
<circle cx="709.1" cy="352.0" r="3.2" fill="#fff" stroke="#222" stroke-width="0.8" shape-rendering="geometricPrecision"/>
<line x1="545.0" y1="400.0" x2="545.0" y2="416.2" stroke="#000" stroke-width="1"/>
<line x1="585.0" y1="400.0" x2="585.0" y2="425.0" stroke="#000" stroke-width="1"/>
<line x1="590.0" y1="400.0" x2="590.0" y2="426.2" stroke="#000" stroke-width="1"/>
<rect x="550.0" y="415.0" width="32.8" height="7.8" fill="#6b6b6b"/>
<rect x="575.0" y="400.0" width="7.8" height="15.2" fill="#6b6b6b"/>
<rect x="453.8" y="421.2" width="27.8" height="65.2" fill="#5a5a5a"/>
<rect x="440.0" y="413.8" width="27.8" height="7.8" fill="#5a5a5a"/>
<rect x="440.0" y="421.2" width="5.2" height="11.5" fill="#5a5a5a"/>
<rect x="460.0" y="415.0" width="7.8" height="17.8" fill="#5a5a5a"/>
<rect x="475.0" y="421.2" width="29.0" height="14.0" fill="#5a5a5a"/>
<rect x="482.5" y="428.8" width="7.8" height="14.0" fill="#000"/>
<rect x="473.8" y="443.8" width="6.2" height="10.0" fill="#000"/>
<rect x="473.8" y="463.8" width="6.2" height="11.2" fill="#000"/>
<rect x="451.2" y="427.5" width="3.8" height="42.5" fill="#484848"/>
<line x1="460.0" y1="443.0" x2="481.2" y2="443.0" stroke="#000" stroke-width="2"/>
<rect x="450.0" y="471.2" width="11.5" height="17.8" fill="none" stroke="#000" stroke-width="1.5"/>
<polygon points="458.0,415.0 462.5,418.8 458.0,422.5" fill="#fff"/>
<rect x="481.2" y="435.0" width="22.8" height="50.2" fill="#d4d4d4"/>
<rect x="503.8" y="417.5" width="41.5" height="10.2" fill="#d4d4d4"/>
<rect x="503.8" y="423.8" width="62.8" height="11.5" fill="#d4d4d4"/>
<rect x="552.5" y="423.8" width="14.0" height="44.0" fill="#d4d4d4"/>
<rect x="530.0" y="457.5" width="22.8" height="27.8" fill="#d4d4d4"/>
<rect x="481.2" y="472.5" width="34.0" height="14.0" fill="#d4d4d4"/>
<rect x="515.0" y="485.0" width="61.5" height="19.0" fill="#d4d4d4"/>
<rect x="550.0" y="480.0" width="26.5" height="6.5" fill="#d4d4d4"/>
<rect x="503.8" y="435.0" width="6.2" height="40.0" fill="#d4d4d4"/>
<rect x="507.5" y="427.5" width="45.2" height="17.8" fill="#5a5a5a"/>
<rect x="540.0" y="445.0" width="12.8" height="9.0" fill="#5a5a5a"/>
<rect x="501.2" y="440.0" width="25.2" height="34.0" fill="#7a7a7a"/>
<rect x="510.0" y="452.5" width="17.8" height="36.5" fill="#5a5a5a"/>
<rect x="527.5" y="445.0" width="17.8" height="12.8" fill="#7a7a7a"/>
<rect x="493.8" y="440.0" width="7.8" height="26.5" fill="#000"/>
<rect x="548.8" y="467.5" width="16.5" height="12.8" fill="#000"/>
<rect x="538.8" y="477.5" width="9.0" height="11.5" fill="#8c8c8c"/>
<rect x="547.5" y="477.5" width="4.0" height="11.5" fill="#000"/>
<rect x="543.0" y="423.0" width="9.0" height="3.5" fill="#000"/>
<rect x="532.5" y="442.5" width="11.2" height="3.0" fill="#000"/>
<rect x="510.0" y="451.2" width="23.8" height="2.0" fill="#000"/>
<rect x="501.2" y="486.2" width="6.2" height="6.2" fill="#000"/>
<rect x="568.8" y="423.8" width="3.8" height="17.5" fill="#000"/>
<polygon points="552.5,430.0 558.8,424.5 558.8,435.5" fill="#fff"/>
<rect x="512.5" y="505.0" width="32.8" height="21.5" fill="#5a5a5a"/>
<rect x="526.2" y="505.0" width="19.0" height="7.8" fill="#000"/>
<rect x="560.0" y="490.0" width="6.5" height="10.2" fill="#000"/>
<rect x="546.2" y="498.8" width="30.2" height="2.8" fill="#000"/>
<rect x="507.5" y="493.8" width="7.5" height="16.2" fill="#000"/>
<rect x="522.5" y="525.0" width="15.0" height="4.0" fill="#000"/>
<rect x="545.0" y="501.2" width="40.2" height="49.0" fill="#d4d4d4"/>
<rect x="576.2" y="488.8" width="9.0" height="19.0" fill="#d4d4d4"/>
<rect x="585.0" y="507.5" width="22.8" height="42.8" fill="#d4d4d4"/>
<rect x="607.5" y="520.0" width="11.5" height="30.2" fill="#d4d4d4"/>
<rect x="522.5" y="530.0" width="22.8" height="20.2" fill="#d4d4d4"/>
<rect x="537.5" y="520.0" width="9.0" height="11.5" fill="#d4d4d4"/>
<rect x="531.2" y="550.0" width="26.5" height="7.8" fill="#d4d4d4"/>
<rect x="543.8" y="557.5" width="14.0" height="15.2" fill="#d4d4d4"/>
<rect x="553.8" y="513.8" width="14.0" height="46.5" fill="#5a5a5a"/>
<rect x="567.5" y="542.5" width="15.2" height="12.8" fill="#000"/>
<rect x="541.2" y="545.0" width="12.8" height="5.2" fill="#000"/>
<rect x="550.0" y="538.8" width="4.0" height="21.5" fill="#000"/>
<rect x="553.8" y="555.0" width="8.8" height="5.0" fill="#000"/>
<rect x="581.2" y="516.2" width="19.0" height="6.5" fill="#000"/>
<rect x="592.0" y="522.5" width="8.2" height="20.2" fill="#000"/>
<rect x="601.2" y="527.5" width="17.8" height="15.2" fill="#9c9c9c"/>
<rect x="581.2" y="533.8" width="11.2" height="1.8" fill="#5a5a5a"/>
<line x1="527.5" y1="536.2" x2="542.5" y2="536.2" stroke="#000" stroke-width="1"/>
<line x1="522.5" y1="542.5" x2="533.0" y2="542.5" stroke="#000" stroke-width="1"/>
<rect x="533.0" y="542.5" width="2.0" height="8.8" fill="#000"/>
<rect x="515.0" y="556.2" width="29.0" height="19.0" fill="#5a5a5a"/>
<rect x="557.5" y="550.0" width="42.8" height="29.0" fill="#5a5a5a"/>
<rect x="600.0" y="550.0" width="9.0" height="29.0" fill="#7a7a7a"/>
<rect x="591.2" y="571.2" width="17.8" height="7.8" fill="#7a7a7a"/>
<rect x="512.5" y="550.0" width="4.0" height="25.2" fill="#000"/>
<rect x="512.5" y="550.0" width="17.8" height="6.5" fill="#000"/>
<rect x="528.8" y="575.0" width="36.5" height="10.2" fill="#484848"/>
<rect x="542.5" y="583.8" width="7.8" height="7.8" fill="#484848"/>
<rect x="555.0" y="583.8" width="7.8" height="7.8" fill="#484848"/>
<rect x="543.8" y="573.8" width="18.8" height="2.8" fill="#000"/>
<line x1="577.0" y1="570.0" x2="591.2" y2="570.0" stroke="#000" stroke-width="1"/>
<line x1="591.2" y1="570.0" x2="591.2" y2="579.0" stroke="#000" stroke-width="1"/>
<rect x="530.0" y="585.0" width="6.5" height="40.2" fill="#5a5a5a"/>
<rect x="530.0" y="598.8" width="19.0" height="14.0" fill="#5a5a5a"/>
<rect x="531.2" y="605.0" width="11.5" height="7.8" fill="#000"/>
<rect x="536.2" y="612.5" width="12.8" height="7.8" fill="#5a5a5a"/>
<rect x="611.2" y="550.0" width="7.8" height="12.8" fill="#000"/>
<rect x="610.5" y="548.8" width="8.5" height="7.5" fill="none" stroke="#000" stroke-width="1"/>
<line x1="512.5" y1="576.2" x2="512.5" y2="593.8" stroke="#000" stroke-width="1"/>
<line x1="512.5" y1="576.2" x2="528.8" y2="576.2" stroke="#000" stroke-width="1"/>
<line x1="528.8" y1="576.2" x2="528.8" y2="593.8" stroke="#000" stroke-width="1"/>
<circle cx="573.8" cy="443.8" r="3.4" fill="#fff" stroke="#222" stroke-width="0.8" shape-rendering="geometricPrecision"/>
<circle cx="570.5" cy="460.0" r="3.4" fill="#fff" stroke="#222" stroke-width="0.8" shape-rendering="geometricPrecision"/>
<circle cx="596.2" cy="526.8" r="3.4" fill="#fff" stroke="#222" stroke-width="0.8" shape-rendering="geometricPrecision"/>
<circle cx="516.8" cy="548.0" r="3.4" fill="#fff" stroke="#222" stroke-width="0.8" shape-rendering="geometricPrecision"/>
<circle cx="511.2" cy="565.0" r="3.4" fill="#fff" stroke="#222" stroke-width="0.8" shape-rendering="geometricPrecision"/>
<circle cx="580.5" cy="585.5" r="3.4" fill="#fff" stroke="#222" stroke-width="0.8" shape-rendering="geometricPrecision"/>
<circle cx="453.0" cy="402.0" r="3.4" fill="#fff" stroke="#222" stroke-width="0.8" shape-rendering="geometricPrecision"/>
<rect x="637.5" y="437.5" width="14.0" height="29.0" fill="#adadad"/>
<line x1="635.0" y1="467.0" x2="652.5" y2="467.0" stroke="#000" stroke-width="1"/>
<line x1="63.8" y1="385.0" x2="63.8" y2="395.0" stroke="#000" stroke-width="1"/>
<line x1="59.5" y1="393.8" x2="80.0" y2="393.8" stroke="#000" stroke-width="1"/>
<line x1="67.5" y1="470.0" x2="67.5" y2="537.5" stroke="#000" stroke-width="1"/>
<line x1="63.8" y1="470.0" x2="63.8" y2="502.5" stroke="#000" stroke-width="1"/>
<line x1="177.5" y1="385.5" x2="247.5" y2="385.5" stroke="#000" stroke-width="1"/>
<line x1="177.5" y1="392.5" x2="247.5" y2="392.5" stroke="#000" stroke-width="1"/>
<line x1="177.5" y1="399.5" x2="247.5" y2="399.5" stroke="#000" stroke-width="1"/>
<line x1="177.5" y1="406.2" x2="247.5" y2="406.2" stroke="#000" stroke-width="1"/>
<line x1="225.0" y1="413.8" x2="260.0" y2="413.8" stroke="#000" stroke-width="1"/>
<line x1="225.0" y1="420.0" x2="260.0" y2="420.0" stroke="#000" stroke-width="1"/>
<line x1="202.5" y1="350.0" x2="202.5" y2="357.5" stroke="#000" stroke-width="1"/>
<line x1="178.8" y1="396.2" x2="247.5" y2="396.2" stroke="#000" stroke-width="2" stroke-dasharray="4 2 7 3"/>
<line x1="212.5" y1="408.8" x2="260.0" y2="410.5" stroke="#000" stroke-width="2" stroke-dasharray="6 2 3 3"/>
<rect x="63.8" y="392.5" width="102.8" height="77.5" fill="#000"/>
<rect x="76.2" y="470.0" width="90.2" height="15.2" fill="#000"/>
<rect x="177.5" y="437.5" width="7.8" height="7.8" fill="#5a5a5a"/>
<rect x="128.8" y="483.8" width="59.0" height="29.0" fill="#000"/>
<rect x="166.2" y="445.0" width="24.0" height="25.2" fill="#000"/>
<rect x="167.5" y="376.2" width="45.2" height="9.0" fill="#5a5a5a"/>
<rect x="202.5" y="357.5" width="10.2" height="19.0" fill="#5a5a5a"/>
<rect x="167.5" y="385.0" width="10.2" height="60.2" fill="#5a5a5a"/>
<rect x="177.5" y="410.0" width="47.8" height="10.2" fill="#5a5a5a"/>
<rect x="177.5" y="420.0" width="47.8" height="17.8" fill="#000"/>
<rect x="202.5" y="423.8" width="22.8" height="10.2" fill="#5a5a5a"/>
<rect x="185.0" y="437.5" width="40.2" height="7.8" fill="#5a5a5a"/>
<rect x="190.0" y="445.0" width="10.2" height="20.2" fill="#5a5a5a"/>
<rect x="177.5" y="403.8" width="32.8" height="6.5" fill="#000"/>
<rect x="163.8" y="393.8" width="4.2" height="43.8" fill="#000"/>
<rect x="225.0" y="423.8" width="35.2" height="10.2" fill="#5a5a5a"/>
<rect x="225.0" y="433.8" width="22.8" height="16.5" fill="#5a5a5a"/>
<rect x="225.0" y="433.8" width="12.8" height="9.0" fill="#000"/>
<rect x="232.5" y="450.0" width="15.2" height="12.8" fill="#5a5a5a"/>
<rect x="230.0" y="462.5" width="39.8" height="17.8" fill="#6b6b6b"/>
<rect x="225.0" y="414.5" width="7.0" height="5.5" fill="#333"/>
<rect x="200.0" y="446.2" width="6.2" height="26.2" fill="#000"/>
<rect x="206.2" y="453.8" width="14.0" height="19.0" fill="#6b6b6b"/>
<rect x="185.0" y="465.0" width="35.2" height="17.8" fill="#7a7a7a"/>
<rect x="197.5" y="482.5" width="10.2" height="30.2" fill="#7a7a7a"/>
<rect x="186.2" y="482.5" width="11.5" height="30.2" fill="#5a5a5a"/>
<rect x="97.5" y="485.0" width="31.5" height="44.0" fill="#5a5a5a"/>
<rect x="97.5" y="511.2" width="109.0" height="17.8" fill="#5a5a5a"/>
<rect x="128.8" y="528.8" width="14.0" height="8.5" fill="#5a5a5a"/>
<rect x="165.0" y="512.5" width="41.5" height="10.2" fill="#5a5a5a"/>
<rect x="98.8" y="486.2" width="25.2" height="9.0" fill="#6b6b6b"/>
<rect x="105.0" y="498.8" width="24.0" height="12.8" fill="#000"/>
<rect x="132.5" y="506.2" width="5.2" height="26.5" fill="#000"/>
<rect x="128.8" y="502.5" width="14.0" height="9.0" fill="#6b6b6b"/>
<rect x="177.0" y="520.0" width="13.0" height="9.0" fill="#fff"/>
<rect x="111.2" y="353.8" width="8.5" height="54.0" fill="#9c9c9c"/>
<rect x="85.0" y="408.8" width="55.2" height="11.5" fill="#8c8c8c"/>
<rect x="77.5" y="397.5" width="10.2" height="12.8" fill="#8c8c8c"/>
<rect x="78.8" y="398.0" width="4.2" height="12.0" fill="#6b6b6b"/>
<rect x="76.2" y="420.0" width="14.0" height="60.2" fill="#8c8c8c"/>
<rect x="76.2" y="470.0" width="64.0" height="15.2" fill="#8c8c8c"/>
<rect x="67.5" y="460.0" width="10.0" height="11.2" fill="#8c8c8c"/>
<polygon points="102.5,412.5 111.2,407.5 120.0,407.5 128.8,412.5 128.8,420.0 102.5,420.0" fill="#8c8c8c"/>
<rect x="55.0" y="427.5" width="22.8" height="7.8" fill="#6b6b6b"/>
<rect x="93.8" y="416.2" width="35.2" height="21.5" fill="#5a5a5a"/>
<rect x="102.5" y="437.5" width="20.2" height="12.8" fill="#5a5a5a"/>
<rect x="90.0" y="437.5" width="12.5" height="35.0" fill="#000"/>
<rect x="122.5" y="437.5" width="11.5" height="35.2" fill="#000"/>
<rect x="102.5" y="450.0" width="20.2" height="22.8" fill="#000"/>
<rect x="128.8" y="417.5" width="21.5" height="20.2" fill="#6b6b6b"/>
<rect x="132.5" y="437.5" width="19.0" height="10.2" fill="#6b6b6b"/>
<rect x="133.8" y="445.0" width="6.5" height="25.2" fill="#8c8c8c"/>
<rect x="130.0" y="433.8" width="11.2" height="3.2" fill="#000"/>
<rect x="101.2" y="466.2" width="6.2" height="6.8" fill="#5a5a5a"/>
<rect x="114.5" y="466.2" width="6.0" height="6.8" fill="#5a5a5a"/>
<rect x="150.0" y="392.5" width="14.0" height="62.8" fill="#9c9c9c"/>
<rect x="145.0" y="407.5" width="6.5" height="25.2" fill="#9c9c9c"/>
<rect x="141.2" y="455.0" width="36.0" height="27.8" fill="#9c9c9c"/>
<rect x="151.2" y="459.2" width="16.5" height="3.5" fill="#000"/>
<rect x="151.2" y="474.5" width="16.5" height="3.2" fill="#000"/>
<rect x="150.0" y="482.5" width="18.2" height="15.2" fill="#9c9c9c"/>
<rect x="155.0" y="490.0" width="9.0" height="4.0" fill="#000"/>
<rect x="156.2" y="497.5" width="6.5" height="12.8" fill="#9c9c9c"/>
<rect x="154.5" y="510.0" width="10.2" height="22.8" fill="#8c8c8c"/>
<rect x="150.0" y="532.5" width="17.8" height="35.5" fill="#c6c6c6"/>
<line x1="149.0" y1="568.0" x2="168.8" y2="568.0" stroke="#000" stroke-width="1"/>
<circle cx="145.8" cy="407.5" r="3.3" fill="#fff" stroke="#222" stroke-width="0.8" shape-rendering="geometricPrecision"/>
<circle cx="180.0" cy="469.2" r="3.3" fill="#fff" stroke="#222" stroke-width="0.8" shape-rendering="geometricPrecision"/>
<circle cx="213.2" cy="450.0" r="3.3" fill="#fff" stroke="#222" stroke-width="0.8" shape-rendering="geometricPrecision"/>
<circle cx="63.8" cy="465.5" r="3.3" fill="#fff" stroke="#222" stroke-width="0.8" shape-rendering="geometricPrecision"/>
<line x1="213.8" y1="361.2" x2="218.0" y2="356.8" stroke="#000" stroke-width="1"/>
<line x1="218.0" y1="356.8" x2="223.8" y2="362.0" stroke="#000" stroke-width="1"/>
<line x1="176.2" y1="553.8" x2="181.2" y2="558.0" stroke="#000" stroke-width="1"/>
<line x1="181.2" y1="558.0" x2="186.2" y2="553.8" stroke="#000" stroke-width="1"/>
<rect x="65.0" y="471.2" width="10.0" height="13.8" fill="none" stroke="#000" stroke-width="1"/>
<line x1="65.0" y1="477.0" x2="75.0" y2="477.0" stroke="#000" stroke-width="1"/>
<rect x="278.8" y="446.2" width="57.5" height="27.5" fill="none" stroke="#000" stroke-width="1"/>
<line x1="300.0" y1="465.0" x2="336.2" y2="465.0" stroke="#000" stroke-width="1"/>
<line x1="313.8" y1="453.8" x2="336.2" y2="453.8" stroke="#000" stroke-width="1"/>
<rect x="315.8" y="456.0" width="24.8" height="19.8" fill="#5a5a5a"/>
<rect x="301.2" y="466.5" width="14.5" height="9.2" fill="#5a5a5a"/>
<rect x="318.8" y="457.5" width="6.2" height="6.2" fill="#000"/>
<rect x="278.8" y="475.0" width="50.2" height="29.0" fill="#5a5a5a"/>
<rect x="302.5" y="470.0" width="36.5" height="20.2" fill="#5a5a5a"/>
<rect x="250.0" y="473.8" width="26.5" height="7.8" fill="#7a7a7a"/>
<rect x="267.5" y="481.2" width="9.0" height="30.2" fill="#7a7a7a"/>
<rect x="267.5" y="503.8" width="24.0" height="7.8" fill="#7a7a7a"/>
<rect x="281.2" y="485.0" width="9.0" height="11.5" fill="#000"/>
<rect x="317.5" y="482.5" width="11.5" height="15.2" fill="#000"/>
<rect x="296.2" y="474.5" width="6.2" height="5.5" fill="#000"/>
<rect x="297.5" y="500.0" width="3.0" height="17.5" fill="#000"/>
<rect x="336.2" y="423.8" width="38.2" height="51.2" fill="#5a5a5a"/>
<rect x="363.8" y="442.5" width="9.0" height="30.5" fill="#000"/>
<rect x="348.8" y="448.8" width="3.8" height="11.2" fill="#000"/>
<rect x="336.2" y="423.8" width="38.2" height="6.2" fill="#6b6b6b"/>
<rect x="336.2" y="442.0" width="11.5" height="33.5" fill="#b8b8b8"/>
<rect x="343.0" y="470.0" width="4.0" height="5.5" fill="#b8b8b8"/>
<polygon points="336.2,430.0 351.2,430.0 351.2,435.0 340.0,438.8 336.2,435.0" fill="#fff"/>
<rect x="328.8" y="475.0" width="54.0" height="9.0" fill="#b8b8b8"/>
<rect x="328.8" y="483.8" width="9.0" height="24.0" fill="#b8b8b8"/>
<rect x="373.8" y="483.8" width="25.2" height="24.0" fill="#b8b8b8"/>
<rect x="337.5" y="483.8" width="36.5" height="24.0" fill="#000"/>
<rect x="373.8" y="500.0" width="16.5" height="6.5" fill="#000"/>
<rect x="383.8" y="473.8" width="16.0" height="17.8" fill="#000"/>
<rect x="300.0" y="498.8" width="37.8" height="9.0" fill="#b8b8b8"/>
<rect x="296.2" y="507.5" width="11.5" height="16.5" fill="#b8b8b8"/>
<rect x="306.2" y="507.5" width="49.0" height="4.0" fill="#000"/>
<rect x="340.0" y="507.5" width="59.0" height="16.5" fill="#b8b8b8"/>
<rect x="356.2" y="507.5" width="3.0" height="4.5" fill="#000"/>
<rect x="369.5" y="507.5" width="3.0" height="4.5" fill="#000"/>
<rect x="263.8" y="521.2" width="45.2" height="35.2" fill="#6b6b6b"/>
<rect x="301.2" y="526.2" width="11.5" height="24.0" fill="#000"/>
<rect x="265.0" y="547.5" width="6.5" height="9.0" fill="#000"/>
<rect x="272.5" y="528.8" width="29.0" height="7.8" fill="#5a5a5a"/>
<rect x="278.8" y="546.2" width="22.8" height="4.0" fill="#484848"/>
<polygon points="285.5,515.0 291.5,520.0 285.5,525.0" fill="#fff"/>
<rect x="312.5" y="518.8" width="7.8" height="31.5" fill="#b8b8b8"/>
<rect x="326.2" y="518.8" width="29.0" height="40.2" fill="#b8b8b8"/>
<rect x="355.0" y="521.2" width="30.2" height="29.0" fill="#000"/>
<rect x="357.5" y="523.8" width="15.0" height="21.2" fill="#333"/>
<rect x="360.0" y="550.0" width="25.2" height="9.0" fill="#b8b8b8"/>
<rect x="326.2" y="558.8" width="42.8" height="9.0" fill="#b8b8b8"/>
<rect x="326.2" y="518.8" width="7.0" height="9.0" fill="#000"/>
<rect x="340.5" y="518.8" width="7.8" height="9.0" fill="#000"/>
<rect x="326.2" y="547.0" width="9.8" height="9.5" fill="#000"/>
<rect x="343.8" y="547.0" width="3.5" height="9.5" fill="#000"/>
<rect x="308.8" y="526.2" width="11.8" height="1.8" fill="#000"/>
<rect x="310.0" y="548.8" width="10.5" height="1.8" fill="#000"/>
<rect x="385.0" y="527.5" width="32.8" height="31.5" fill="#b8b8b8"/>
<rect x="396.2" y="540.0" width="10.2" height="25.2" fill="#000"/>
<rect x="377.5" y="558.8" width="24.0" height="16.5" fill="#000"/>
<rect x="307.5" y="512.5" width="32.8" height="6.5" fill="#d4d4d4"/>
<rect x="320.0" y="518.8" width="6.5" height="36.5" fill="#d4d4d4"/>
<rect x="308.8" y="550.0" width="17.8" height="17.8" fill="#d4d4d4"/>
<rect x="301.2" y="557.5" width="19.0" height="16.5" fill="#d4d4d4"/>
<rect x="320.0" y="558.8" width="57.8" height="15.2" fill="#d4d4d4"/>
<rect x="303.8" y="573.8" width="15.2" height="44.0" fill="#d4d4d4"/>
<rect x="303.8" y="605.0" width="40.2" height="12.8" fill="#d4d4d4"/>
<rect x="332.5" y="573.8" width="11.5" height="44.0" fill="#d4d4d4"/>
<rect x="327.5" y="559.5" width="33.8" height="8.0" fill="#b8b8b8"/>
<line x1="361.2" y1="559.5" x2="361.2" y2="567.5" stroke="#000" stroke-width="1"/>
<line x1="368.8" y1="559.5" x2="368.8" y2="567.5" stroke="#000" stroke-width="1"/>
<rect x="286.2" y="552.5" width="22.8" height="5.2" fill="#9c9c9c"/>
<rect x="291.2" y="557.5" width="12.8" height="40.2" fill="#9c9c9c"/>
<rect x="315.0" y="575.0" width="17.8" height="31.5" fill="#9c9c9c"/>
<rect x="318.8" y="594.2" width="10.2" height="11.0" fill="#000"/>
<rect x="315.0" y="582.0" width="4.0" height="3.8" fill="#000"/>
<rect x="287.5" y="597.5" width="5.0" height="5.0" fill="#000"/>
<rect x="296.2" y="597.0" width="3.8" height="4.2" fill="#000"/>
<rect x="401.2" y="552.5" width="75.2" height="57.8" fill="#b8b8b8"/>
<rect x="411.2" y="567.5" width="42.8" height="24.0" fill="#000"/>
<rect x="438.8" y="591.2" width="15.2" height="6.5" fill="#000"/>
<rect x="416.2" y="545.0" width="34.0" height="9.0" fill="#000"/>
<rect x="437.5" y="535.0" width="16.5" height="11.5" fill="#000"/>
<rect x="450.0" y="541.2" width="10.2" height="19.0" fill="#b8b8b8"/>
<rect x="467.5" y="558.8" width="9.0" height="21.5" fill="#000"/>
<rect x="467.5" y="592.5" width="9.0" height="5.2" fill="#000"/>
<rect x="450.0" y="550.0" width="3.8" height="10.0" fill="#000"/>
<rect x="408.8" y="590.0" width="6.2" height="10.0" fill="#000"/>
<line x1="418.0" y1="541.2" x2="437.5" y2="541.2" stroke="#000" stroke-width="1"/>
<line x1="418.0" y1="541.2" x2="418.0" y2="545.0" stroke="#000" stroke-width="1"/>
<line x1="420.0" y1="549.5" x2="436.2" y2="549.5" stroke="#fff" stroke-width="1.5" stroke-dasharray="3 2"/>
<rect x="343.8" y="575.0" width="46.5" height="55.2" fill="#000"/>
<rect x="361.2" y="577.5" width="46.5" height="7.8" fill="#b8b8b8"/>
<rect x="390.0" y="585.0" width="17.8" height="27.8" fill="#b8b8b8"/>
<rect x="371.2" y="585.0" width="18.5" height="10.2" fill="#7a7a7a"/>
<rect x="380.0" y="595.0" width="9.8" height="35.2" fill="#7a7a7a"/>
<rect x="355.0" y="622.5" width="34.8" height="7.8" fill="#7a7a7a"/>
<rect x="343.8" y="585.0" width="7.8" height="20.2" fill="#b8b8b8"/>
<rect x="343.8" y="605.0" width="19.0" height="17.8" fill="#7a7a7a"/>
<rect x="328.8" y="617.5" width="26.5" height="11.5" fill="#7a7a7a"/>
<rect x="398.8" y="590.0" width="4.0" height="22.8" fill="#000"/>
<rect x="325.0" y="626.2" width="18.8" height="6.2" fill="#000"/>
<rect x="363.8" y="630.0" width="26.2" height="3.0" fill="#000"/>
<rect x="407.5" y="610.0" width="26.5" height="9.0" fill="#000"/>
<rect x="440.0" y="611.2" width="32.8" height="5.2" fill="#000"/>
<rect x="407.5" y="618.8" width="5.0" height="13.8" fill="#000"/>
<rect x="411.2" y="617.5" width="52.8" height="15.2" fill="#b8b8b8"/>
<rect x="430.0" y="625.0" width="22.8" height="7.8" fill="#000"/>
<rect x="423.8" y="632.5" width="41.5" height="10.2" fill="#b8b8b8"/>
<rect x="425.0" y="642.5" width="44.0" height="17.2" fill="#b8b8b8"/>
<rect x="435.0" y="641.2" width="30.2" height="4.0" fill="#000"/>
<rect x="390.0" y="615.0" width="7.5" height="17.5" fill="none" stroke="#000" stroke-width="1.5"/>
<line x1="390.0" y1="624.5" x2="397.5" y2="624.5" stroke="#000" stroke-width="1"/>
<rect x="318.8" y="619.5" width="6.2" height="12.5" fill="none" stroke="#000" stroke-width="1.5"/>
<rect x="343.8" y="625.5" width="6.5" height="6.5" fill="#fff"/>
<rect x="399.5" y="502.5" width="8.5" height="23.8" fill="none" stroke="#000" stroke-width="1"/>
<rect x="461.2" y="540.0" width="11.2" height="10.0" fill="none" stroke="#000" stroke-width="1.5"/>
<rect x="472.5" y="550.0" width="6.2" height="8.8" fill="none" stroke="#000" stroke-width="1"/>
<rect x="450.0" y="471.2" width="11.2" height="18.8" fill="none" stroke="#000" stroke-width="1.5"/>
<line x1="385.0" y1="526.2" x2="397.5" y2="526.2" stroke="#000" stroke-width="1"/>
<line x1="385.0" y1="523.2" x2="397.5" y2="523.2" stroke="#000" stroke-width="1"/>
<line x1="260.0" y1="515.0" x2="260.0" y2="550.0" stroke="#000" stroke-width="1"/>
<line x1="263.8" y1="515.0" x2="263.8" y2="521.2" stroke="#000" stroke-width="1"/>
<rect x="263.8" y="515.0" width="20.0" height="6.2" fill="none" stroke="#000" stroke-width="1"/>
<line x1="285.0" y1="557.5" x2="285.0" y2="610.0" stroke="#000" stroke-width="1"/>
<line x1="291.2" y1="557.5" x2="291.2" y2="606.2" stroke="#000" stroke-width="1"/>
<line x1="280.0" y1="598.2" x2="291.2" y2="598.2" stroke="#000" stroke-width="1"/>
<line x1="285.0" y1="606.2" x2="303.8" y2="606.2" stroke="#000" stroke-width="1"/>
<line x1="288.0" y1="558.8" x2="288.0" y2="605.0" stroke="#000" stroke-width="2" stroke-dasharray="5 3 2 3"/>
<line x1="296.2" y1="601.2" x2="296.2" y2="610.0" stroke="#000" stroke-width="1" stroke-dasharray="2 2"/>
<line x1="301.2" y1="600.0" x2="301.2" y2="610.0" stroke="#000" stroke-width="1" stroke-dasharray="2 2"/>
<line x1="255.0" y1="480.0" x2="255.0" y2="515.0" stroke="#000" stroke-width="1"/>
<line x1="261.2" y1="481.2" x2="261.2" y2="502.5" stroke="#000" stroke-width="1"/>
<line x1="265.0" y1="481.2" x2="265.0" y2="502.5" stroke="#000" stroke-width="1"/>
<line x1="250.0" y1="500.0" x2="256.2" y2="500.0" stroke="#000" stroke-width="1"/>
<line x1="464.5" y1="630.0" x2="469.5" y2="625.0" stroke="#000" stroke-width="1"/>
<line x1="469.5" y1="625.0" x2="474.5" y2="630.0" stroke="#000" stroke-width="1"/>
<line x1="469.5" y1="635.0" x2="474.5" y2="639.5" stroke="#000" stroke-width="1"/>
<line x1="474.5" y1="639.5" x2="478.8" y2="635.0" stroke="#000" stroke-width="1"/>
<rect x="465.0" y="616.2" width="8.0" height="10.0" fill="#fff"/>
<line x1="473.0" y1="616.2" x2="473.0" y2="626.2" stroke="#000" stroke-width="1"/>
<rect x="411.2" y="620.0" width="52.8" height="12.8" fill="#9c9c9c"/>
<rect x="430.0" y="625.0" width="22.8" height="7.8" fill="#000"/>
<rect x="423.8" y="632.5" width="40.2" height="10.2" fill="#9c9c9c"/>
<rect x="425.0" y="642.5" width="44.0" height="12.8" fill="#9c9c9c"/>
<rect x="440.0" y="655.0" width="29.0" height="20.2" fill="#9c9c9c"/>
<rect x="443.8" y="656.2" width="10.2" height="19.0" fill="#adadad"/>
<line x1="443.8" y1="656.2" x2="454.5" y2="656.2" stroke="#000" stroke-width="2"/>
<line x1="454.5" y1="656.2" x2="454.5" y2="675.2" stroke="#000" stroke-width="2"/>
<line x1="443.8" y1="675.2" x2="454.5" y2="675.2" stroke="#000" stroke-width="2"/>
<rect x="451.2" y="668.8" width="3.2" height="6.5" fill="#000"/>
<rect x="435.0" y="642.0" width="20.0" height="3.0" fill="#000"/>
<rect x="438.2" y="656.5" width="2.8" height="20.2" fill="#fff"/>
<line x1="441.2" y1="656.5" x2="441.2" y2="676.8" stroke="#000" stroke-width="1"/>
<line x1="443.0" y1="667.5" x2="448.8" y2="667.5" stroke="#000" stroke-width="2"/>
<rect x="398.8" y="672.5" width="90.2" height="57.5" fill="#9c9c9c"/>
<rect x="368.8" y="725.0" width="12.5" height="20.2" fill="#9c9c9c"/>
<rect x="363.8" y="730.0" width="6.5" height="10.2" fill="#6b6b6b"/>
<rect x="362.5" y="740.0" width="20.2" height="17.8" fill="#9c9c9c"/>
<rect x="470.0" y="752.5" width="47.8" height="60.2" fill="#000"/>
<rect x="417.5" y="730.0" width="37.5" height="65.0" fill="#000"/>
<rect x="384.6" y="672.2" width="40.1" height="19.2" fill="#9c9c9c"/>
<rect x="424.4" y="665.0" width="44.7" height="10.7" fill="#9c9c9c"/>
<rect x="432.2" y="675.4" width="56.4" height="13.3" fill="#9c9c9c"/>
<rect x="476.0" y="688.5" width="12.7" height="34.2" fill="#7a7a7a"/>
<rect x="398.3" y="691.1" width="10.1" height="10.7" fill="#9c9c9c"/>
<rect x="408.1" y="691.1" width="11.4" height="15.9" fill="#9c9c9c"/>
<rect x="408.1" y="698.3" width="28.3" height="8.7" fill="#9c9c9c"/>
<rect x="427.7" y="706.8" width="8.7" height="23.8" fill="#9c9c9c"/>
<rect x="427.7" y="718.5" width="27.7" height="8.1" fill="#9c9c9c"/>
<rect x="393.1" y="719.2" width="26.4" height="34.9" fill="#9c9c9c"/>
<rect x="380.0" y="725.1" width="13.3" height="18.5" fill="#9c9c9c"/>
<rect x="387.8" y="743.3" width="31.6" height="17.9" fill="#9c9c9c"/>
<rect x="387.8" y="761.0" width="10.7" height="34.9" fill="#9c9c9c"/>
<rect x="398.3" y="779.3" width="25.1" height="16.6" fill="#9c9c9c"/>
<rect x="406.8" y="726.4" width="11.9" height="18.5" fill="#6b6b6b"/>
<rect x="411.3" y="730.3" width="5.4" height="10.1" fill="#8c8c8c"/>
<rect x="421.8" y="678.1" width="11.4" height="20.5" fill="#000"/>
<rect x="430.3" y="670.9" width="2.9" height="7.4" fill="#000"/>
<rect x="432.9" y="685.6" width="22.5" height="3.1" fill="#000"/>
<rect x="436.2" y="688.5" width="12.0" height="30.3" fill="#000"/>
<rect x="447.9" y="709.4" width="7.4" height="6.8" fill="#000"/>
<rect x="419.2" y="706.8" width="8.7" height="49.9" fill="#000"/>
<rect x="427.7" y="730.3" width="27.7" height="74.7" fill="#000"/>
<rect x="440.1" y="726.4" width="12.0" height="4.2" fill="#000"/>
<rect x="411.3" y="753.8" width="8.1" height="8.1" fill="#000"/>
<rect x="398.3" y="761.0" width="26.4" height="18.5" fill="#000"/>
<rect x="423.1" y="779.3" width="5.2" height="20.2" fill="#000"/>
<rect x="391.1" y="678.1" width="14.0" height="6.1" fill="#000"/>
<rect x="398.3" y="700.9" width="10.1" height="11.4" fill="#000"/>
<rect x="391.1" y="712.7" width="20.5" height="6.8" fill="#000"/>
<rect x="386.5" y="722.5" width="7.4" height="5.5" fill="#000"/>
<rect x="383.9" y="743.3" width="4.2" height="49.9" fill="#000"/>
<polygon points="404.2,690.1 408.7,690.1 408.7,695.7" fill="#000"/>
<rect x="470.1" y="722.5" width="15.9" height="22.5" fill="#000"/>
<rect x="477.9" y="736.8" width="9.4" height="3.5" fill="#fff"/>
<rect x="470.1" y="755.1" width="29.9" height="40.7" fill="#000"/>
<rect x="489.0" y="675.4" width="4.2" height="32.9" fill="#000"/>
<rect x="470.1" y="744.7" width="29.9" height="10.7" fill="#5a5a5a"/>
<rect x="488.4" y="734.2" width="11.6" height="10.7" fill="#5a5a5a"/>
<rect x="485.5" y="710.1" width="7.1" height="12.7" fill="#fff"/>
<rect x="485.5" y="710.1" width="7.1" height="12.7" fill="none" stroke="#000" stroke-width="1.5"/>
<rect x="451.8" y="689.8" width="22.5" height="4.8" fill="#8c8c8c"/>
<rect x="448.6" y="694.4" width="27.0" height="15.3" fill="#d4d4d4"/>
<rect x="453.8" y="699.2" width="16.6" height="4.6" fill="#9c9c9c"/>
<rect x="455.1" y="709.4" width="14.0" height="14.0" fill="#d4d4d4"/>
<rect x="453.1" y="723.1" width="17.2" height="13.3" fill="#9c9c9c"/>
<rect x="455.1" y="736.2" width="14.0" height="27.0" fill="#d4d4d4"/>
<polygon points="455.1,723.4 458.3,723.4 459.9,726.4 462.0,722.5 464.2,726.4 466.2,723.4 469.1,723.4 469.1,721.2 455.1,721.2" fill="#d4d4d4"/>
<polygon points="455.1,736.4 458.3,736.4 459.9,734.2 462.0,736.2 464.2,734.2 466.2,736.4 469.1,736.4 469.1,738.1 455.1,738.1" fill="#d4d4d4"/>
<rect x="448.6" y="766.2" width="27.0" height="10.1" fill="#d4d4d4"/>
<rect x="453.8" y="771.4" width="16.6" height="4.4" fill="#000"/>
<rect x="448.6" y="776.0" width="27.0" height="6.1" fill="#9c9c9c"/>
<rect x="455.1" y="781.9" width="14.0" height="14.0" fill="#9c9c9c"/>
<rect x="460.3" y="691.1" width="3.3" height="2.9" fill="#000"/>
<rect x="459.9" y="709.7" width="3.4" height="2.6" fill="#000"/>
<rect x="459.9" y="763.2" width="3.4" height="3.0" fill="#000"/>
<rect x="459.9" y="781.9" width="3.4" height="2.6" fill="#000"/>
<rect x="447.9" y="709.4" width="7.4" height="6.8" fill="#000"/>
<rect x="468.8" y="710.1" width="7.8" height="5.9" fill="#000"/>
<rect x="468.8" y="688.5" width="7.2" height="2.0" fill="#000"/>
<rect x="474.0" y="688.5" width="2.0" height="5.9" fill="#000"/>
<rect x="404.8" y="787.7" width="9.8" height="13.1" fill="#fff"/>
<line x1="404.8" y1="787.7" x2="414.6" y2="787.7" stroke="#000" stroke-width="1.5"/>
<line x1="414.6" y1="787.7" x2="414.6" y2="800.8" stroke="#000" stroke-width="1.5"/>
<rect x="486.2" y="733.8" width="11.5" height="21.5" fill="#5a5a5a"/>
<rect x="497.5" y="728.8" width="17.8" height="31.5" fill="#5a5a5a"/>
<rect x="470.0" y="742.5" width="27.8" height="12.8" fill="#5a5a5a"/>
<rect x="512.5" y="752.5" width="30.2" height="40.2" fill="#5a5a5a"/>
<rect x="510.0" y="765.0" width="30.2" height="22.8" fill="#333"/>
<rect x="542.5" y="761.2" width="6.5" height="31.5" fill="#000"/>
<rect x="517.5" y="792.5" width="32.8" height="15.2" fill="#6b6b6b"/>
<rect x="525.0" y="798.8" width="25.2" height="3.2" fill="#000"/>
<rect x="478.8" y="736.2" width="7.5" height="3.2" fill="#fff"/>
<rect x="407.5" y="795.0" width="62.8" height="30.2" fill="#9c9c9c"/>
<rect x="422.5" y="792.5" width="32.8" height="7.8" fill="#9c9c9c"/>
<rect x="470.0" y="792.5" width="37.8" height="17.8" fill="#9c9c9c"/>
<rect x="471.2" y="810.0" width="25.2" height="20.2" fill="#9c9c9c"/>
<rect x="478.8" y="813.8" width="9.5" height="7.8" fill="#000"/>
<rect x="500.0" y="800.0" width="25.2" height="20.2" fill="#9c9c9c"/>
<rect x="510.0" y="820.0" width="7.8" height="19.8" fill="#9c9c9c"/>
<rect x="517.5" y="822.5" width="26.5" height="15.2" fill="#000"/>
<rect x="422.5" y="792.5" width="10.0" height="7.5" fill="#000"/>
<rect x="432.5" y="800.0" width="5.8" height="11.5" fill="#000"/>
<rect x="453.8" y="802.5" width="5.2" height="10.2" fill="#000"/>
<rect x="413.8" y="803.8" width="11.0" height="14.0" fill="#6b6b6b"/>
<rect x="415.5" y="805.5" width="7.5" height="10.5" fill="none" stroke="#000" stroke-width="1"/>
<rect x="465.0" y="803.8" width="5.2" height="21.5" fill="#000"/>
<rect x="427.5" y="825.0" width="14.0" height="5.2" fill="#000"/>
<rect x="475.0" y="802.5" width="6.2" height="3.8" fill="#000"/>
<rect x="487.5" y="802.5" width="6.2" height="3.8" fill="#000"/>
<rect x="495.0" y="803.8" width="6.2" height="6.2" fill="#000"/>
<polygon points="455.0,827.5 466.2,820.0 466.2,827.5" fill="#000"/>
<rect x="392.5" y="798.8" width="6.2" height="6.2" fill="#000"/>
<line x1="363.0" y1="792.0" x2="377.0" y2="792.0" stroke="#000" stroke-width="1.5"/>
<circle cx="435.8" cy="660.0" r="3.4" fill="#fff" stroke="#222" stroke-width="0.8" shape-rendering="geometricPrecision"/>
<circle cx="440.5" cy="796.8" r="3.4" fill="#fff" stroke="#222" stroke-width="0.8" shape-rendering="geometricPrecision"/>
<circle cx="483.0" cy="833.8" r="3.2" fill="#fff" stroke="#222" stroke-width="0.8" shape-rendering="geometricPrecision"/>
<rect x="350.0" y="620.0" width="40.0" height="11.2" fill="#9c9c9c"/>
<rect x="362.5" y="620.0" width="17.5" height="3.8" fill="#000"/>
<rect x="387.5" y="620.0" width="3.8" height="12.5" fill="#000"/>
<rect x="391.2" y="620.0" width="6.2" height="12.5" fill="none" stroke="#000" stroke-width="1"/>
<rect x="407.0" y="620.0" width="4.5" height="13.0" fill="#000"/>
<polygon points="544.5,733.0 554.0,742.5 547.5,745.5" fill="#000"/>
<line x1="548.8" y1="740.0" x2="559.5" y2="776.2" stroke="#000" stroke-width="1.2"/>
<polygon points="553.0,773.8 561.2,771.2 562.5,766.2 564.5,772.5 567.0,776.2 564.5,785.0 560.0,782.5 556.2,785.0" fill="#000"/>
<polygon points="541.5,735.0 545.0,731.2 547.5,733.8 544.5,737.5" fill="#fff"/>
<line x1="541.5" y1="735.0" x2="545.0" y2="731.2" stroke="#000" stroke-width="1"/>
<line x1="541.5" y1="735.0" x2="544.5" y2="738.0" stroke="#000" stroke-width="1"/>
<line x1="550.0" y1="770.0" x2="550.0" y2="790.0" stroke="#000" stroke-width="1" stroke-dasharray="2 3"/>
<line x1="552.5" y1="787.5" x2="567.5" y2="787.5" stroke="#000" stroke-width="1" stroke-dasharray="3 2"/>
<rect x="530.0" y="620.0" width="6.5" height="6.8" fill="#5a5a5a"/>
<line x1="518.0" y1="622.0" x2="521.5" y2="625.0" stroke="#000" stroke-width="1"/>
<line x1="521.5" y1="625.0" x2="525.0" y2="622.0" stroke="#000" stroke-width="1"/>
<line x1="465.0" y1="631.2" x2="469.5" y2="626.2" stroke="#000" stroke-width="1"/>
<line x1="469.5" y1="626.2" x2="473.8" y2="631.2" stroke="#000" stroke-width="1"/>
<line x1="465.0" y1="631.2" x2="473.8" y2="631.2" stroke="#000" stroke-width="1"/>
<line x1="470.0" y1="636.2" x2="474.5" y2="640.0" stroke="#000" stroke-width="1"/>
<line x1="474.5" y1="640.0" x2="478.8" y2="636.2" stroke="#000" stroke-width="1"/>
<rect x="508.3" y="800.0" width="17.2" height="22.5" fill="#9c9c9c"/>
<rect x="525.3" y="800.0" width="25.1" height="8.1" fill="#9c9c9c"/>
<rect x="508.3" y="822.2" width="9.4" height="19.8" fill="#9c9c9c"/>
<rect x="516.2" y="835.3" width="25.1" height="8.1" fill="#9c9c9c"/>
<rect x="534.4" y="843.1" width="6.8" height="9.4" fill="#9c9c9c"/>
<rect x="508.3" y="800.0" width="10.4" height="13.1" fill="#000"/>
<rect x="518.8" y="800.0" width="30.0" height="2.1" fill="#000"/>
<rect x="529.2" y="848.3" width="108.6" height="103.4" fill="#000"/>
<rect x="529.2" y="951.5" width="17.2" height="19.8" fill="#000"/>
<rect x="603.6" y="951.5" width="34.2" height="19.8" fill="#000"/>
<rect x="574.9" y="951.5" width="28.5" height="38.1" fill="#000"/>
<rect x="593.2" y="826.1" width="40.7" height="22.5" fill="#000"/>
<rect x="508.3" y="822.2" width="35.5" height="29.0" fill="#000"/>
<rect x="520.1" y="850.9" width="15.9" height="12.0" fill="#000"/>
<rect x="510.9" y="860.1" width="19.8" height="26.4" fill="#000"/>
<rect x="508.3" y="822.2" width="9.4" height="19.8" fill="#9c9c9c"/>
<rect x="516.2" y="835.3" width="25.1" height="8.1" fill="#9c9c9c"/>
<rect x="534.4" y="843.1" width="6.8" height="9.4" fill="#9c9c9c"/>
<line x1="564.5" y1="952.8" x2="564.5" y2="964.5" stroke="#000" stroke-width="1"/>
<line x1="564.5" y1="964.5" x2="574.9" y2="964.5" stroke="#000" stroke-width="1"/>
<rect x="606.3" y="847.0" width="31.6" height="22.5" fill="#fff"/>
<line x1="606.3" y1="847.0" x2="637.9" y2="847.0" stroke="#000" stroke-width="1"/>
<line x1="637.9" y1="847.0" x2="637.9" y2="870.5" stroke="#000" stroke-width="1"/>
<rect x="621.9" y="824.8" width="5.5" height="19.8" fill="#9c9c9c"/>
<rect x="599.7" y="839.2" width="27.7" height="5.5" fill="#9c9c9c"/>
<rect x="599.7" y="844.4" width="6.8" height="12.0" fill="#9c9c9c"/>
<rect x="567.1" y="854.8" width="39.4" height="9.4" fill="#9c9c9c"/>
<rect x="567.1" y="864.0" width="8.1" height="35.5" fill="#9c9c9c"/>
<rect x="543.6" y="857.5" width="19.8" height="36.8" fill="#5a5a5a"/>
<rect x="535.7" y="892.7" width="8.1" height="27.7" fill="#5a5a5a"/>
<rect x="555.3" y="895.3" width="10.7" height="35.5" fill="#5a5a5a"/>
<rect x="555.3" y="916.2" width="60.3" height="14.6" fill="#5a5a5a"/>
<rect x="576.2" y="930.6" width="26.4" height="10.7" fill="#5a5a5a"/>
<rect x="608.9" y="878.3" width="8.1" height="44.7" fill="#5a5a5a"/>
<rect x="595.8" y="875.7" width="13.3" height="10.7" fill="#5a5a5a"/>
<rect x="574.9" y="865.3" width="18.5" height="10.7" fill="#6b6b6b"/>
<rect x="555.3" y="877.0" width="9.4" height="17.2" fill="#000"/>
<rect x="594.5" y="895.3" width="14.6" height="21.2" fill="#000"/>
<rect x="616.7" y="887.5" width="15.7" height="2.6" fill="#484848"/>
<rect x="616.7" y="897.9" width="13.1" height="5.2" fill="#484848"/>
<rect x="616.7" y="918.8" width="10.4" height="5.2" fill="#484848"/>
<rect x="534.4" y="852.2" width="8.1" height="34.2" fill="#b8b8b8"/>
<rect x="537.0" y="883.6" width="14.6" height="8.1" fill="#b8b8b8"/>
<rect x="544.9" y="891.4" width="6.8" height="15.9" fill="#b8b8b8"/>
<rect x="551.4" y="901.9" width="18.5" height="4.2" fill="#b8b8b8"/>
<rect x="567.1" y="900.5" width="15.9" height="8.1" fill="#b8b8b8"/>
<rect x="576.2" y="877.0" width="22.5" height="5.5" fill="#d4d4d4"/>
<rect x="588.0" y="882.3" width="5.5" height="14.6" fill="#d4d4d4"/>
<rect x="582.7" y="895.3" width="8.1" height="14.6" fill="#d4d4d4"/>
<rect x="577.5" y="908.4" width="6.8" height="6.8" fill="#d4d4d4"/>
<rect x="586.7" y="899.2" width="8.1" height="65.6" fill="#9c9c9c"/>
<rect x="584.1" y="964.5" width="11.2" height="25.1" fill="#d4d4d4"/>
<rect x="584.8" y="976.5" width="9.7" height="2.1" fill="#000"/>
<polygon points="574.9,982.8 582.7,984.1 578.8,988.6" fill="#d4d4d4"/>
<rect x="517.5" y="864.8" width="11.2" height="16.5" fill="#6b6b6b"/>
<rect x="521.4" y="867.9" width="4.7" height="10.2" fill="#000"/>
<circle cx="532.6" cy="877.8" r="3.0" fill="#fff" stroke="#222" stroke-width="0.8" shape-rendering="geometricPrecision"/>
<circle cx="598.9" cy="905.0" r="3.0" fill="#fff" stroke="#222" stroke-width="0.8" shape-rendering="geometricPrecision"/>
<polygon points="635.5,841.8 652.2,836.6 652.2,847.3" fill="#000"/>
<polygon points="674.7,841.8 659.0,836.6 659.0,847.3" fill="#000"/>
<line x1="650.7" y1="841.8" x2="700.0" y2="840.7" stroke="#000" stroke-width="1.3"/>
<line x1="621.4" y1="823.0" x2="624.5" y2="819.8" stroke="#000" stroke-width="1"/>
<line x1="624.5" y1="819.8" x2="627.7" y2="823.0" stroke="#000" stroke-width="1"/>
<line x1="670.2" y1="859.5" x2="674.2" y2="863.5" stroke="#000" stroke-width="1"/>
<line x1="674.2" y1="863.5" x2="678.3" y2="859.5" stroke="#000" stroke-width="1"/>
<line x1="686.8" y1="635.0" x2="686.8" y2="673.8" stroke="#000" stroke-width="1"/>
<line x1="692.0" y1="670.0" x2="692.0" y2="695.0" stroke="#000" stroke-width="1"/>
<line x1="575.0" y1="683.2" x2="612.5" y2="683.2" stroke="#000" stroke-width="1"/>
<line x1="612.5" y1="683.2" x2="612.5" y2="700.0" stroke="#000" stroke-width="2"/>
<rect x="561.2" y="695.0" width="45.2" height="29.0" fill="#5a5a5a"/>
<rect x="580.0" y="683.8" width="11.5" height="11.5" fill="#5a5a5a"/>
<rect x="575.0" y="707.5" width="11.5" height="16.5" fill="#000"/>
<rect x="593.8" y="705.0" width="6.5" height="10.2" fill="#000"/>
<rect x="605.5" y="701.2" width="8.2" height="5.0" fill="#000"/>
<rect x="552.5" y="726.2" width="35.2" height="22.8" fill="#5a5a5a"/>
<rect x="555.0" y="730.0" width="6.5" height="15.2" fill="#000"/>
<rect x="566.2" y="728.8" width="19.0" height="5.2" fill="#000"/>
<rect x="573.8" y="738.0" width="5.0" height="4.5" fill="#000"/>
<rect x="582.5" y="738.0" width="5.0" height="9.5" fill="#000"/>
<rect x="566.2" y="738.0" width="3.2" height="4.5" fill="#000"/>
<line x1="587.5" y1="726.2" x2="587.5" y2="760.0" stroke="#000" stroke-width="1.5"/>
<rect x="606.2" y="705.0" width="26.5" height="21.5" fill="#5a5a5a"/>
<rect x="598.8" y="726.2" width="27.8" height="49.0" fill="#5a5a5a"/>
<rect x="603.8" y="716.2" width="12.8" height="14.0" fill="#000"/>
<rect x="607.5" y="750.0" width="9.0" height="20.2" fill="#000"/>
<rect x="598.8" y="762.5" width="9.0" height="17.8" fill="#000"/>
<rect x="607.5" y="775.0" width="24.0" height="11.5" fill="#000"/>
<rect x="626.2" y="720.0" width="6.5" height="20.2" fill="#9c9c9c"/>
<rect x="626.2" y="736.2" width="22.8" height="16.5" fill="#9c9c9c"/>
<rect x="630.0" y="721.2" width="9.0" height="20.2" fill="#000"/>
<rect x="648.8" y="715.0" width="66.5" height="35.2" fill="#5a5a5a"/>
<rect x="648.8" y="715.0" width="24.0" height="2.8" fill="#000"/>
<rect x="648.8" y="733.8" width="9.0" height="20.2" fill="#000"/>
<rect x="655.0" y="723.8" width="17.5" height="2.5" fill="#000"/>
<rect x="626.2" y="752.5" width="79.0" height="22.8" fill="#5a5a5a"/>
<rect x="666.2" y="750.8" width="19.0" height="16.5" fill="#000"/>
<rect x="692.5" y="751.2" width="12.8" height="15.2" fill="#000"/>
<rect x="630.0" y="765.0" width="37.8" height="6.5" fill="#000"/>
<rect x="631.2" y="771.2" width="59.0" height="16.5" fill="#5a5a5a"/>
<rect x="633.8" y="777.5" width="17.8" height="11.5" fill="#6b6b6b"/>
<rect x="668.8" y="733.8" width="13.8" height="6.2" fill="#000"/>
<rect x="673.8" y="715.0" width="24.0" height="17.8" fill="#b8b8b8"/>
<rect x="697.5" y="718.8" width="9.0" height="16.5" fill="#9c9c9c"/>
<rect x="706.2" y="722.5" width="15.2" height="10.2" fill="#9c9c9c"/>
<rect x="716.2" y="732.5" width="11.5" height="20.2" fill="#9c9c9c"/>
<rect x="710.0" y="731.2" width="5.0" height="10.0" fill="#000"/>
<line x1="681.2" y1="716.2" x2="681.2" y2="727.5" stroke="#000" stroke-width="1"/>
<line x1="698.0" y1="725.0" x2="698.0" y2="737.5" stroke="#000" stroke-width="2"/>
<rect x="658.8" y="671.2" width="17.8" height="6.5" fill="#7a7a7a"/>
<rect x="668.8" y="677.5" width="7.8" height="10.2" fill="#7a7a7a"/>
<rect x="657.5" y="686.2" width="35.2" height="21.5" fill="#7a7a7a"/>
<rect x="657.5" y="676.2" width="12.8" height="7.8" fill="#fff"/>
<rect x="662.5" y="688.8" width="30.2" height="12.8" fill="#8c8c8c"/>
<rect x="680.0" y="687.0" width="8.2" height="7.8" fill="#000"/>
<rect x="657.5" y="694.5" width="8.8" height="2.5" fill="#fff"/>
<line x1="657.5" y1="694.5" x2="666.2" y2="694.5" stroke="#000" stroke-width="1"/>
<line x1="657.5" y1="697.0" x2="666.2" y2="697.0" stroke="#000" stroke-width="1"/>
<line x1="663.8" y1="688.2" x2="680.0" y2="688.2" stroke="#000" stroke-width="2"/>
<rect x="692.5" y="686.2" width="17.8" height="26.5" fill="#5a5a5a"/>
<rect x="706.2" y="671.2" width="22.0" height="45.2" fill="#5a5a5a"/>
<rect x="710.0" y="683.8" width="9.8" height="14.0" fill="#000"/>
<rect x="710.0" y="705.0" width="9.8" height="16.5" fill="#000"/>
<rect x="676.2" y="702.5" width="34.0" height="12.8" fill="#5a5a5a"/>
<rect x="681.2" y="707.5" width="19.0" height="4.0" fill="#000"/>
<rect x="703.8" y="655.0" width="15.2" height="15.2" fill="#5a5a5a"/>
<rect x="707.5" y="668.8" width="7.5" height="3.2" fill="#5a5a5a"/>
<rect x="657.5" y="785.0" width="34.0" height="34.0" fill="#5a5a5a"/>
<rect x="657.5" y="785.0" width="5.2" height="30.2" fill="#000"/>
<rect x="657.5" y="811.2" width="16.5" height="7.8" fill="#000"/>
<rect x="676.2" y="783.8" width="14.0" height="14.0" fill="#6b6b6b"/>
<rect x="676.2" y="797.5" width="14.0" height="5.2" fill="#000"/>
<rect x="668.0" y="785.0" width="4.0" height="11.2" fill="#000"/>
<rect x="691.2" y="787.5" width="19.0" height="9.0" fill="#8c8c8c"/>
<rect x="691.2" y="796.2" width="9.0" height="26.5" fill="#8c8c8c"/>
<rect x="698.8" y="798.0" width="11.5" height="5.2" fill="#fff"/>
<line x1="698.8" y1="803.2" x2="710.2" y2="803.2" stroke="#000" stroke-width="1"/>
<rect x="688.8" y="816.2" width="10.2" height="11.5" fill="#8c8c8c"/>
<rect x="688.8" y="826.2" width="20.2" height="6.5" fill="#8c8c8c"/>
<rect x="702.5" y="832.5" width="6.5" height="12.8" fill="#8c8c8c"/>
<rect x="682.5" y="841.2" width="26.5" height="5.2" fill="#8c8c8c"/>
<rect x="682.5" y="846.2" width="6.5" height="18.8" fill="#8c8c8c"/>
<rect x="653.8" y="798.8" width="4.0" height="14.0" fill="#000"/>
<rect x="696.2" y="793.8" width="8.8" height="2.5" fill="#484848"/>
<line x1="662.5" y1="822.0" x2="690.0" y2="822.0" stroke="#000" stroke-width="1.5"/>
<line x1="675.0" y1="827.5" x2="690.0" y2="827.5" stroke="#000" stroke-width="1.5"/>
<line x1="675.0" y1="831.2" x2="690.0" y2="831.2" stroke="#000" stroke-width="1.5"/>
<line x1="675.0" y1="824.5" x2="685.0" y2="824.5" stroke="#000" stroke-width="1"/>
<line x1="675.0" y1="829.2" x2="687.5" y2="829.2" stroke="#000" stroke-width="1"/>
<line x1="700.0" y1="822.5" x2="717.5" y2="822.5" stroke="#000" stroke-width="1" stroke-dasharray="3 2"/>
<rect x="705.0" y="765.0" width="11.5" height="15.2" fill="#fff"/>
<rect x="707.0" y="768.8" width="8.0" height="8.8" fill="none" stroke="#000" stroke-width="1"/>
<line x1="703.8" y1="765.0" x2="716.5" y2="765.0" stroke="#000" stroke-width="1.5"/>
<line x1="716.5" y1="763.8" x2="716.5" y2="780.2" stroke="#000" stroke-width="1.5"/>
<line x1="683.8" y1="779.2" x2="715.0" y2="779.2" stroke="#000" stroke-width="1.5"/>
<line x1="703.8" y1="771.2" x2="715.0" y2="771.2" stroke="#000" stroke-width="1.5" stroke-dasharray="3 2"/>
<line x1="715.0" y1="747.5" x2="715.0" y2="755.0" stroke="#000" stroke-width="1" stroke-dasharray="2 2"/>
<circle cx="597.5" cy="688.0" r="3.3" fill="#fff" stroke="#222" stroke-width="0.8" shape-rendering="geometricPrecision"/>
<circle cx="698.8" cy="682.0" r="3.3" fill="#fff" stroke="#222" stroke-width="0.8" shape-rendering="geometricPrecision"/>
<circle cx="639.2" cy="731.2" r="3.3" fill="#fff" stroke="#222" stroke-width="0.8" shape-rendering="geometricPrecision"/>
<circle cx="594.5" cy="737.0" r="3.3" fill="#fff" stroke="#222" stroke-width="0.8" shape-rendering="geometricPrecision"/>
<circle cx="614.5" cy="770.5" r="3.3" fill="#fff" stroke="#222" stroke-width="0.8" shape-rendering="geometricPrecision"/>
<circle cx="695.0" cy="783.5" r="3.3" fill="#fff" stroke="#222" stroke-width="0.8" shape-rendering="geometricPrecision"/>
<polygon points="658.8,670.5 663.2,665.5 668.0,670.5" fill="#fff"/>
<line x1="658.8" y1="670.5" x2="663.2" y2="665.5" stroke="#000" stroke-width="1"/>
<line x1="663.2" y1="665.5" x2="668.0" y2="670.5" stroke="#000" stroke-width="1"/>
<rect x="551.2" y="770.0" width="16.2" height="16.2" fill="none" stroke="#000" stroke-width="1"/>
<line x1="562.5" y1="762.5" x2="562.5" y2="790.0" stroke="#000" stroke-width="1" stroke-dasharray="2 2"/>
<g shape-rendering="geometricPrecision"><line x1="160.3" y1="210.5" x2="200.4" y2="331.4" stroke="#000" stroke-width="1.1"/>
<polygon points="156.3,198.4 156.1,215.3 166.6,211.9" fill="#000"/>
<polygon points="204.4,343.5 194.1,330.0 204.6,326.6" fill="#000"/>
</g>
<g shape-rendering="geometricPrecision"><line x1="563.4" y1="91.0" x2="603.6" y2="266.5" stroke="#000" stroke-width="1.1"/>
<polygon points="560.5,78.5 558.7,95.3 569.4,92.9" fill="#000"/>
<polygon points="606.5,279.0 597.6,264.6 608.3,262.2" fill="#000"/>
</g>
<g shape-rendering="geometricPrecision"><line x1="552.7" y1="626.6" x2="637.8" y2="672.9" stroke="#000" stroke-width="1.1"/>
<polygon points="541.5,620.5 552.9,633.0 558.2,623.3" fill="#000"/>
<polygon points="649.0,679.0 632.3,676.2 637.6,666.5" fill="#000"/>
</g>
<text class="lab" x="168.8" y="71.5" font-size="20.3" textLength="30.0" lengthAdjust="spacingAndGlyphs" shape-rendering="geometricPrecision">10</text>
<text class="lab" x="492.0" y="58.0" font-size="21.6" textLength="30.0" lengthAdjust="spacingAndGlyphs" shape-rendering="geometricPrecision">09</text>
<text class="lab" x="367.5" y="315.5" font-size="21.6" textLength="35.0" lengthAdjust="spacingAndGlyphs" shape-rendering="geometricPrecision">CC</text>
<text class="lab" x="422.0" y="347.5" font-size="23.0" textLength="30.5" lengthAdjust="spacingAndGlyphs" shape-rendering="geometricPrecision">06</text>
<text class="lab" x="734.0" y="327.0" font-size="20.9" textLength="28.0" lengthAdjust="spacingAndGlyphs" shape-rendering="geometricPrecision">08</text>
<text class="lab" x="818.0" y="385.0" font-size="20.9" textLength="35.0" lengthAdjust="spacingAndGlyphs" shape-rendering="geometricPrecision">BD</text>
<text class="lab" x="97.0" y="349.5" font-size="21.6" textLength="32.5" lengthAdjust="spacingAndGlyphs" shape-rendering="geometricPrecision">TS</text>
<text class="lab" x="28.0" y="420.0" font-size="22.3" textLength="32.0" lengthAdjust="spacingAndGlyphs" shape-rendering="geometricPrecision">07</text>
<text class="lab" x="591.0" y="502.5" font-size="23.0" textLength="30.0" lengthAdjust="spacingAndGlyphs" shape-rendering="geometricPrecision">04</text>
<text class="lab" x="252.5" y="577.5" font-size="23.0" textLength="30.0" lengthAdjust="spacingAndGlyphs" shape-rendering="geometricPrecision">05</text>
<text class="lab" x="354.5" y="715.5" font-size="22.3" textLength="29.5" lengthAdjust="spacingAndGlyphs" shape-rendering="geometricPrecision">03</text>
<text class="lab" x="372.0" y="824.0" font-size="20.9" textLength="32.0" lengthAdjust="spacingAndGlyphs" shape-rendering="geometricPrecision">FA</text>
<text class="lab" x="470.0" y="880.5" font-size="23.0" textLength="35.0" lengthAdjust="spacingAndGlyphs" shape-rendering="geometricPrecision">TG</text>
<text class="lab" x="609.4" y="867.4" font-size="22.9" textLength="26.9" lengthAdjust="spacingAndGlyphs" shape-rendering="geometricPrecision">01</text>
<text class="lab" x="720.5" y="778.0" font-size="21.6" textLength="30.5" lengthAdjust="spacingAndGlyphs" shape-rendering="geometricPrecision">02</text>
<text class="lab" x="698.0" y="653.8" font-size="23.5" textLength="34.5" lengthAdjust="spacingAndGlyphs" shape-rendering="geometricPrecision">CS</text>
<text class="ex" x="634.0" y="484.5" font-size="17.5" textLength="166.0" lengthAdjust="spacingAndGlyphs" shape-rendering="geometricPrecision">Exit to Desert K_16</text>
<text class="ex" x="27.0" y="586.0" font-size="16.8" textLength="167.0" lengthAdjust="spacingAndGlyphs" shape-rendering="geometricPrecision">Exit to Desert K_11</text>
<text class="ex" x="510.0" y="1006.0" font-size="17.5" textLength="167.0" lengthAdjust="spacingAndGlyphs" shape-rendering="geometricPrecision">Exit to Desert K_14</text>
</svg>
<div id="notes">
<div class="ln" style="top:625.6px"><span class="b">*</span>Sectors 01, 02, 03, 07, and 08 are "HQ" sectors. Characters</div>
<div class="ln" style="top:636.8px">start with apartments in the same sector as their HQ. Each of</div>
<div class="ln" style="top:647.9px">these sectors has one or more of the following level 1 hunting</div>
<div class="ln" style="top:659.1px">areas: Abandoned Sidestreet, Sewer, Storage.</div>
<div class="ln" style="top:670.2px"><span class="b">*</span>Sector 06 is the City Center mall sector. Sector 10 is the future</div>
<div class="ln" style="top:681.3px">Club Veronique sector. Sector 04 is merely abandoned. All 3 of</div>
<div class="ln" style="top:692.5px">these have level 4 hunting areas: Abandoned Sidestreet,</div>
<div class="ln" style="top:703.6px">Storage, Sewer.</div>
<div class="ln" style="top:715.5px"><span class="b">*</span>Sector 05 has the new Voice of the Resistance office.</div>
<div class="ln" style="top:726.6px">Abandoned Sector 09 is the old Phoenix Corporation HQ, and</div>
<div class="ln" style="top:737.8px">is obviously the epicenter where the neutron bomb that killed</div>
<div class="ln" style="top:747.8px">everyone in the Dome went off. Both of these sectors have</div>
<div class="ln" style="top:758.3px">level 8 hunting areas: Bunker and Storage.</div>
<div class="ln" style="top:771.5px"><span class="b">*</span>All sectors have a level 1 hunting area called Water Cleaning</div>
<div class="ln" style="top:782.8px">Area.</div>
<div class="ln" style="top:794.5px"><span class="b">*</span>Somebody's cruel little joke: the directional signs in City</div>
<div class="ln" style="top:805.6px">Center sector 06 are all exactly backwards. Read "north" as</div>
<div class="ln" style="top:817.1px">"south," "east" as "west," and vice versa.</div>
<div class="ln" style="top:829.3px"><span class="b">*</span>The minimap/sector map for sector 02 does not appear in</div>
<div class="ln" style="top:840.1px">game. The one for sector 01 is wrong, rotated 90° counter-</div>
<div class="ln" style="top:850.9px">clockwise. Navray is particularly unreliable, failing about half</div>
<div class="ln" style="top:861.8px">the time, in sectors 04, 05, and 09.</div>
<div class="ln" style="top:874.6px"><span class="b">*</span>There are street-level genetic replicators in sectors 01, 02, 03,</div>
<div class="ln" style="top:885.4px">06, 07, and 08. There are public GoGuardian and Wireless</div>
<div class="ln" style="top:896.5px">Resistance Network (CityCom) terminals almost everywhere.</div>
<div class="ln" style="top:908.3px"><span class="b">*</span>Furnished apartments and furniture are sold in sectors 04 and</div>
<div class="ln" style="top:919.1px">08.&nbsp; Unfurnished apartments are sold by the BD FSM.</div>
<div class="ln" style="top:932.0px"><span class="b">*</span>There is no obvious pattern to which sectors have which</div>
<div class="ln" style="top:942.5px">shops. The only sector that has a complete set of shops is City</div>
<div class="ln" style="top:953.3px">Center sector 06.</div>
<div class="ln" style="top:966.1px"><span class="b">*</span>There is obviously no way to line up the city exits with the</div>
<div class="ln" style="top:976.9px">external Wastelands map. For the exits to have lined up</div>
<div class="ln" style="top:987.0px">correctly, Reakktor would have had to redesign sectors K_11</div>
<div class="ln" style="top:998.2px">and K_16&nbsp; and create sectors K_17, L_10, and L_17.</div>
</div>
</body></html>
